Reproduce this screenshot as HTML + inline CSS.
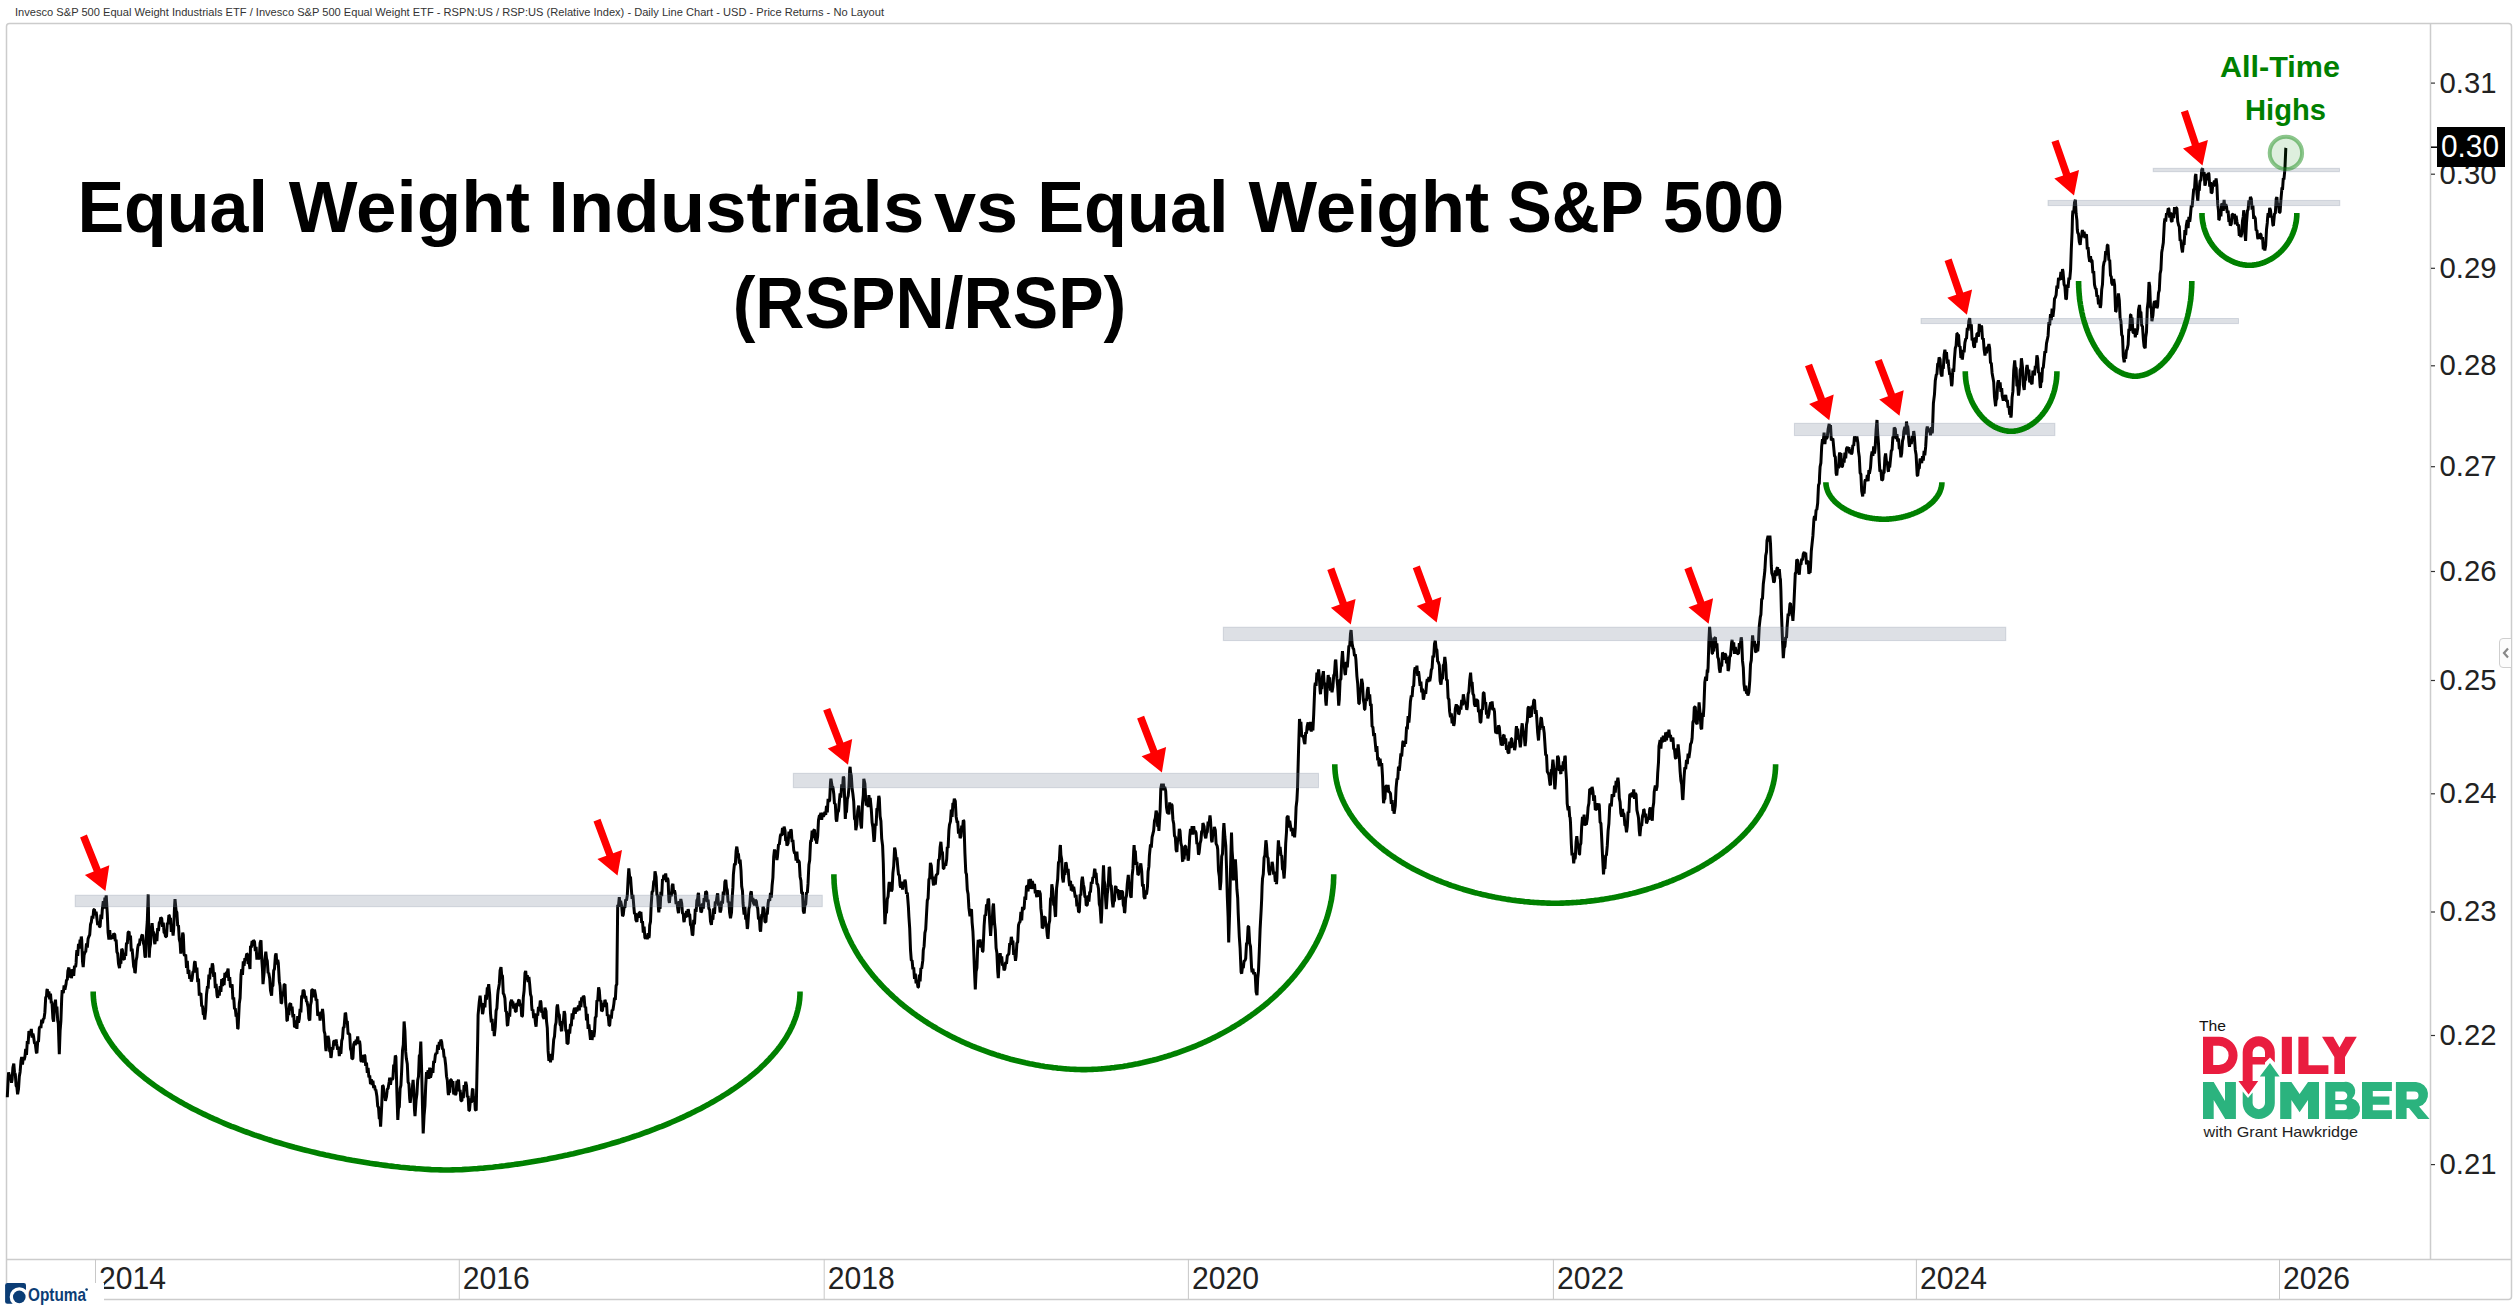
<!DOCTYPE html>
<html><head><meta charset="utf-8"><style>
html,body{margin:0;padding:0;background:#fff;}
body{width:2518px;height:1307px;overflow:hidden;position:relative;font-family:"Liberation Sans",sans-serif;}
svg{position:absolute;left:0;top:0;}
.ax{font-family:"Liberation Sans",sans-serif;font-size:30px;fill:#222;}
.hdr{font-family:"Liberation Sans",sans-serif;font-size:11px;fill:#333;}
.title{font-family:"Liberation Sans",sans-serif;font-weight:bold;font-size:72.5px;fill:#000;}
.ath{font-family:"Liberation Sans",sans-serif;font-weight:bold;font-size:30px;fill:#008000;}
</style></head><body>
<svg width="2518" height="1307" viewBox="0 0 2518 1307">
<text x="15" y="16" class="hdr" textLength="869" lengthAdjust="spacingAndGlyphs">Invesco S&amp;P 500 Equal Weight Industrials ETF / Invesco S&amp;P 500 Equal Weight ETF - RSPN:US / RSP:US (Relative Index) - Daily Line Chart - USD - Price Returns - No Layout</text>
<rect x="6.5" y="23.5" width="2505" height="1276" rx="3" fill="none" stroke="#cccccc" stroke-width="1.5"/>
<line x1="2430.5" y1="23" x2="2430.5" y2="1259.5" stroke="#cccccc" stroke-width="1.5"/>
<line x1="7" y1="1259.5" x2="2511" y2="1259.5" stroke="#cccccc" stroke-width="1.5"/>
<line x1="95.5" y1="1259" x2="95.5" y2="1299" stroke="#c8c8c8" stroke-width="1"/><text x="99.0" y="1289" class="ax" style="font-size:31px" textLength="67" lengthAdjust="spacingAndGlyphs">2014</text><line x1="459.3" y1="1259" x2="459.3" y2="1299" stroke="#c8c8c8" stroke-width="1"/><text x="462.8" y="1289" class="ax" style="font-size:31px" textLength="67" lengthAdjust="spacingAndGlyphs">2016</text><line x1="824.2" y1="1259" x2="824.2" y2="1299" stroke="#c8c8c8" stroke-width="1"/><text x="827.7" y="1289" class="ax" style="font-size:31px" textLength="67" lengthAdjust="spacingAndGlyphs">2018</text><line x1="1188.4" y1="1259" x2="1188.4" y2="1299" stroke="#c8c8c8" stroke-width="1"/><text x="1191.9" y="1289" class="ax" style="font-size:31px" textLength="67" lengthAdjust="spacingAndGlyphs">2020</text><line x1="1553.4" y1="1259" x2="1553.4" y2="1299" stroke="#c8c8c8" stroke-width="1"/><text x="1556.9" y="1289" class="ax" style="font-size:31px" textLength="67" lengthAdjust="spacingAndGlyphs">2022</text><line x1="1916.4" y1="1259" x2="1916.4" y2="1299" stroke="#c8c8c8" stroke-width="1"/><text x="1919.9" y="1289" class="ax" style="font-size:31px" textLength="67" lengthAdjust="spacingAndGlyphs">2024</text><line x1="2279.5" y1="1259" x2="2279.5" y2="1299" stroke="#c8c8c8" stroke-width="1"/><text x="2283.0" y="1289" class="ax" style="font-size:31px" textLength="67" lengthAdjust="spacingAndGlyphs">2026</text>
<line x1="2431" y1="1164.6" x2="2435" y2="1164.6" stroke="#333" stroke-width="1.2"/><line x1="2431" y1="1035.5" x2="2435" y2="1035.5" stroke="#333" stroke-width="1.2"/><line x1="2431" y1="912.0" x2="2435" y2="912.0" stroke="#333" stroke-width="1.2"/><line x1="2431" y1="793.8" x2="2435" y2="793.8" stroke="#333" stroke-width="1.2"/><line x1="2431" y1="680.5" x2="2435" y2="680.5" stroke="#333" stroke-width="1.2"/><line x1="2431" y1="571.5" x2="2435" y2="571.5" stroke="#333" stroke-width="1.2"/><line x1="2431" y1="466.7" x2="2435" y2="466.7" stroke="#333" stroke-width="1.2"/><line x1="2431" y1="365.8" x2="2435" y2="365.8" stroke="#333" stroke-width="1.2"/><line x1="2431" y1="268.3" x2="2435" y2="268.3" stroke="#333" stroke-width="1.2"/><line x1="2431" y1="174.2" x2="2435" y2="174.2" stroke="#333" stroke-width="1.2"/><line x1="2431" y1="83.1" x2="2435" y2="83.1" stroke="#333" stroke-width="1.2"/>
<text x="2439.5" y="1174.0" class="ax" textLength="57" lengthAdjust="spacingAndGlyphs">0.21</text><text x="2439.5" y="1044.9" class="ax" textLength="57" lengthAdjust="spacingAndGlyphs">0.22</text><text x="2439.5" y="921.4" class="ax" textLength="57" lengthAdjust="spacingAndGlyphs">0.23</text><text x="2439.5" y="803.2" class="ax" textLength="57" lengthAdjust="spacingAndGlyphs">0.24</text><text x="2439.5" y="689.9" class="ax" textLength="57" lengthAdjust="spacingAndGlyphs">0.25</text><text x="2439.5" y="580.9" class="ax" textLength="57" lengthAdjust="spacingAndGlyphs">0.26</text><text x="2439.5" y="476.1" class="ax" textLength="57" lengthAdjust="spacingAndGlyphs">0.27</text><text x="2439.5" y="375.2" class="ax" textLength="57" lengthAdjust="spacingAndGlyphs">0.28</text><text x="2439.5" y="277.7" class="ax" textLength="57" lengthAdjust="spacingAndGlyphs">0.29</text><text x="2439.5" y="183.6" class="ax" textLength="57" lengthAdjust="spacingAndGlyphs">0.30</text><text x="2439.5" y="92.5" class="ax" textLength="57" lengthAdjust="spacingAndGlyphs">0.31</text>
<path d="M7.3 1097.2 L8.1 1079.9 L8.6 1072.3 L9.7 1078.1 L10.5 1074.8 L11.5 1082.8 L12.1 1079.4 L12.9 1067.5 L13.8 1063.7 L14.5 1072.2 L15.3 1074.2 L16.1 1085.7 L16.9 1087.1 L17.6 1094.3 L18.5 1089.1 L19.3 1076.5 L20.1 1071.9 L21.0 1060.8 L21.7 1057.0 L22.5 1064.6 L23.3 1056.8 L24.1 1060.1 L24.9 1057.0 L25.7 1048.8 L26.5 1054.8 L27.3 1041.0 L28.1 1044.1 L28.9 1031.1 L29.6 1033.1 L30.5 1035.1 L31.3 1029.0 L32.1 1037.5 L32.9 1033.6 L33.5 1036.0 L34.5 1043.4 L35.3 1043.5 L36.3 1052.2 L36.9 1053.2 L37.7 1041.2 L38.5 1041.9 L39.3 1028.2 L40.2 1026.4 L40.9 1028.0 L41.7 1019.6 L42.5 1023.3 L43.3 1018.7 L44.0 1018.8 L44.9 1012.2 L45.7 997.5 L46.5 996.2 L46.9 990.1 L47.3 989.2 L48.1 997.0 L48.9 991.5 L49.7 999.4 L50.5 993.7 L51.3 1003.5 L51.6 1001.5 L52.1 1004.3 L52.9 1018.4 L53.6 1021.6 L54.5 1007.4 L55.5 999.6 L56.1 1010.0 L56.9 1006.6 L57.7 1020.5 L58.3 1023.5 L59.3 1054.1 L60.1 1031.0 L60.9 1020.8 L61.7 998.5 L62.2 990.1 L63.3 993.2 L64.1 985.3 L64.9 989.6 L66.0 984.3 L66.5 979.9 L67.3 979.8 L67.9 970.9 L68.9 967.5 L69.7 977.5 L70.5 969.4 L71.3 978.1 L71.7 976.7 L72.9 969.3 L73.7 975.9 L74.5 965.8 L75.6 967.1 L76.1 962.9 L76.5 954.7 L76.9 950.2 L77.7 956.0 L78.5 943.8 L79.3 948.6 L80.1 939.7 L80.9 941.4 L81.3 936.5 L81.7 939.8 L82.5 961.3 L83.2 967.1 L84.1 955.1 L85.1 951.8 L85.7 952.0 L86.5 943.4 L87.3 947.6 L88.1 938.7 L88.9 936.5 L89.7 934.9 L90.5 924.5 L90.9 923.1 L91.3 922.4 L92.1 916.0 L92.9 918.6 L93.7 909.7 L94.5 909.4 L95.3 915.2 L96.1 911.7 L96.6 915.5 L97.7 925.1 L98.5 921.4 L99.5 926.9 L100.1 926.7 L100.9 914.7 L101.7 919.2 L102.3 909.7 L103.3 901.1 L104.1 908.6 L104.9 897.7 L105.7 899.8 L106.2 895.4 L107.3 914.1 L108.1 932.7 L108.9 939.7 L109.7 930.1 L110.5 939.0 L110.9 938.4 L112.1 935.3 L112.9 938.8 L113.7 933.4 L114.8 934.6 L115.3 941.1 L116.1 939.7 L116.9 951.8 L117.7 953.7 L118.5 963.7 L119.5 968.1 L120.1 962.2 L120.9 963.6 L121.7 948.9 L122.4 949.9 L123.3 958.7 L124.3 959.5 L124.9 953.0 L125.7 955.9 L126.5 942.6 L127.3 943.9 L128.1 932.3 L129.1 931.7 L129.7 940.1 L130.5 935.5 L131.3 951.3 L132.1 948.6 L132.9 957.6 L133.7 966.5 L134.5 968.7 L134.9 972.9 L135.3 972.2 L136.1 960.8 L136.9 956.9 L137.7 948.0 L138.5 943.7 L139.3 945.6 L140.1 938.6 L140.9 940.6 L141.7 935.7 L142.5 934.6 L143.3 942.7 L144.1 945.4 L144.9 956.0 L145.4 957.6 L146.5 932.1 L147.3 921.2 L148.2 894.4 L149.2 957.6 L149.7 948.6 L150.5 944.2 L151.3 930.3 L152.1 923.1 L152.9 931.9 L153.7 931.9 L154.5 942.1 L154.9 944.2 L156.1 933.6 L156.9 941.1 L157.7 928.0 L158.5 931.2 L159.3 922.3 L160.1 921.9 L160.7 917.4 L161.7 918.5 L162.5 926.9 L163.3 922.6 L164.1 932.9 L164.9 932.9 L165.5 936.5 L166.5 936.7 L167.3 922.8 L168.1 924.0 L168.9 915.1 L169.3 915.5 L169.7 918.4 L170.5 918.0 L171.3 931.8 L172.1 924.8 L173.1 935.6 L173.7 929.1 L174.5 907.4 L175.0 899.2 L176.1 910.8 L176.9 912.5 L177.7 926.0 L178.5 925.3 L178.8 930.8 L179.3 939.3 L180.1 942.7 L180.8 953.7 L181.7 946.0 L182.7 932.7 L183.3 934.8 L184.1 954.5 L184.6 955.6 L185.7 954.5 L186.5 968.0 L187.3 960.9 L188.1 973.8 L188.9 969.9 L189.7 978.9 L190.5 975.4 L191.3 981.5 L192.1 978.6 L192.9 971.8 L193.7 971.5 L194.5 962.3 L195.1 961.4 L196.1 972.5 L196.9 967.6 L197.7 982.2 L198.5 978.6 L199.3 995.6 L199.9 993.9 L200.9 993.4 L201.7 1006.5 L202.5 1005.6 L203.3 1014.5 L204.1 1014.3 L204.7 1019.7 L205.7 1010.2 L206.5 994.5 L207.5 986.2 L208.1 988.6 L208.9 974.6 L209.7 979.5 L210.5 967.8 L211.3 973.4 L212.3 963.3 L212.9 965.6 L213.7 976.8 L214.5 972.3 L215.3 988.3 L216.1 984.0 L217.1 995.8 L217.7 997.8 L218.5 990.5 L219.3 995.7 L220.1 986.0 L220.9 991.9 L221.7 979.1 L222.5 986.2 L223.3 978.1 L224.1 985.1 L224.9 972.8 L225.7 977.6 L226.5 971.9 L227.3 972.9 L227.6 970.9 L228.1 968.6 L228.9 981.0 L229.7 977.2 L230.5 987.5 L231.4 986.2 L232.1 984.3 L232.9 999.5 L233.7 997.3 L234.5 1009.1 L235.3 1008.4 L236.1 1016.6 L236.9 1014.5 L237.7 1028.8 L238.1 1028.3 L239.3 1003.5 L240.1 998.0 L241.0 974.8 L241.7 969.1 L242.5 974.8 L243.3 961.3 L244.1 965.8 L244.9 958.2 L245.7 960.3 L246.7 953.7 L247.3 954.1 L248.1 964.0 L248.9 961.3 L250.0 969.0 L250.5 945.9 L251.3 947.6 L252.1 941.0 L252.9 946.0 L253.4 940.2 L254.5 941.6 L255.3 951.1 L256.1 946.9 L256.9 959.6 L257.7 954.6 L258.2 959.3 L259.3 957.6 L260.1 943.0 L261.0 940.2 L261.7 958.4 L262.5 970.0 L263.0 984.2 L264.1 972.8 L264.9 959.1 L265.8 951.6 L266.5 958.5 L267.3 961.0 L268.1 973.2 L268.7 972.7 L269.7 978.5 L270.5 990.4 L271.6 995.6 L272.1 986.3 L272.9 985.8 L273.7 970.7 L274.5 968.8 L275.4 955.5 L276.1 953.4 L276.9 964.4 L277.7 959.9 L278.3 963.1 L279.3 981.2 L280.1 986.1 L281.1 1003.3 L281.7 1002.9 L282.5 991.7 L283.3 996.2 L284.1 984.7 L285.0 984.2 L285.7 1002.7 L286.5 1009.3 L286.9 1020.5 L287.3 1020.9 L288.1 1010.9 L288.9 1015.1 L289.7 1004.2 L290.7 1003.3 L291.3 1010.4 L292.1 1006.5 L292.9 1017.5 L293.7 1014.1 L294.5 1027.2 L295.5 1026.2 L296.1 1020.5 L296.9 1028.9 L297.7 1016.1 L298.5 1022.7 L299.3 1018.6 L300.1 1008.9 L300.9 1012.5 L301.7 995.6 L302.5 996.7 L303.1 989.9 L304.1 991.0 L304.9 998.5 L305.7 996.0 L306.5 1001.8 L306.9 1001.4 L308.1 1007.3 L308.9 1018.6 L309.8 1020.5 L310.5 1005.1 L311.3 1001.5 L311.7 989.9 L312.9 989.7 L313.7 997.4 L314.5 989.6 L315.6 995.6 L316.1 1000.7 L316.9 999.0 L317.7 1015.6 L318.4 1014.8 L319.3 1012.5 L320.1 1020.5 L320.9 1011.7 L321.7 1018.3 L322.5 1008.8 L323.2 1014.8 L324.1 1030.9 L324.9 1033.9 L325.7 1048.2 L326.1 1051.1 L326.5 1045.6 L327.3 1044.4 L328.0 1035.8 L328.9 1040.4 L329.7 1051.4 L330.5 1051.8 L330.9 1057.8 L331.3 1056.4 L332.1 1047.1 L332.9 1049.7 L333.7 1041.5 L334.5 1040.8 L335.3 1045.4 L336.1 1039.4 L336.6 1043.5 L337.7 1049.8 L338.5 1046.6 L339.3 1056.1 L340.1 1049.2 L340.4 1053.0 L340.9 1053.6 L341.7 1040.8 L342.5 1038.3 L343.3 1027.7 L344.1 1027.3 L345.2 1012.9 L345.7 1013.5 L346.5 1021.6 L347.3 1021.0 L348.1 1034.2 L349.0 1033.9 L349.7 1034.3 L350.5 1048.8 L351.3 1051.4 L351.9 1058.8 L352.9 1058.5 L353.7 1044.2 L354.8 1041.5 L355.3 1045.3 L356.1 1039.7 L356.9 1042.6 L357.7 1036.5 L358.5 1044.0 L359.5 1040.6 L360.1 1045.0 L360.9 1060.7 L361.5 1061.6 L362.5 1055.0 L363.3 1062.5 L364.3 1054.9 L364.9 1055.8 L365.7 1066.0 L366.5 1062.7 L367.3 1073.0 L368.1 1067.8 L368.9 1077.4 L369.7 1075.5 L370.1 1079.8 L370.5 1084.2 L371.3 1079.3 L372.1 1085.0 L372.9 1080.7 L373.7 1088.1 L374.5 1085.4 L375.3 1090.2 L375.8 1089.4 L376.9 1096.2 L377.7 1106.1 L378.5 1107.4 L379.3 1119.0 L380.1 1118.4 L380.6 1126.7 L381.7 1106.0 L382.5 1085.5 L383.3 1086.0 L384.1 1095.9 L384.9 1095.8 L385.4 1100.8 L386.5 1096.6 L387.3 1089.0 L388.1 1088.6 L389.2 1081.7 L389.7 1077.7 L390.5 1084.7 L391.3 1078.2 L392.1 1079.8 L392.9 1078.5 L393.7 1064.5 L394.5 1067.1 L395.3 1055.5 L395.9 1056.8 L396.9 1092.4 L397.8 1120.0 L398.5 1108.1 L399.3 1106.9 L400.1 1088.6 L400.9 1085.3 L401.6 1072.1 L402.5 1050.5 L403.3 1044.7 L404.1 1021.5 L404.9 1030.8 L405.7 1051.9 L406.4 1058.8 L407.3 1064.0 L408.1 1082.1 L408.9 1083.9 L409.7 1098.9 L410.2 1102.8 L411.3 1093.0 L412.1 1089.9 L413.1 1079.8 L413.7 1089.0 L414.5 1110.0 L415.0 1116.1 L416.1 1100.1 L416.9 1094.1 L417.7 1080.1 L418.5 1076.5 L419.3 1055.5 L420.1 1054.9 L420.8 1041.5 L421.7 1072.6 L422.5 1107.1 L423.2 1133.4 L424.1 1115.2 L424.9 1106.2 L425.7 1085.8 L426.5 1072.1 L427.3 1075.8 L428.1 1070.3 L428.9 1078.9 L429.7 1067.6 L430.5 1077.6 L431.3 1074.1 L432.1 1068.2 L432.9 1072.9 L433.7 1060.9 L434.5 1062.9 L435.3 1055.3 L436.1 1053.0 L436.9 1053.8 L437.7 1045.0 L438.5 1049.9 L439.3 1041.9 L440.1 1045.4 L440.8 1039.6 L441.7 1042.1 L442.5 1049.4 L443.3 1048.9 L444.1 1057.3 L444.7 1056.8 L445.7 1065.5 L446.5 1076.2 L447.3 1080.2 L448.1 1092.5 L448.5 1095.1 L448.9 1090.6 L449.7 1092.6 L450.5 1079.8 L451.4 1079.8 L452.1 1087.0 L452.9 1081.2 L453.7 1094.4 L454.5 1089.2 L455.2 1095.1 L456.1 1093.5 L456.9 1080.8 L457.7 1083.9 L458.1 1080.8 L458.5 1079.7 L459.3 1091.4 L460.1 1089.9 L460.9 1100.7 L461.9 1100.8 L462.5 1092.6 L463.3 1098.1 L464.1 1085.2 L464.9 1091.0 L465.7 1081.7 L466.5 1085.6 L467.3 1097.1 L468.1 1095.8 L468.9 1110.6 L469.5 1110.4 L470.5 1098.5 L471.3 1102.8 L472.4 1089.4 L472.9 1088.8 L473.7 1101.8 L474.5 1096.3 L475.3 1109.7 L476.2 1110.4 L476.9 1076.1 L477.7 1039.4 L478.1 1014.8 L479.3 1001.7 L480.1 995.6 L480.9 1003.5 L481.7 1003.6 L482.5 1014.1 L482.9 1012.9 L484.1 1003.2 L484.9 1007.3 L485.7 994.9 L486.5 999.6 L487.3 987.6 L488.1 988.3 L488.7 984.2 L489.7 994.8 L490.5 1013.1 L491.3 1022.4 L492.1 1018.8 L492.9 1031.0 L493.7 1027.6 L494.3 1036.1 L495.3 1026.5 L496.1 1010.7 L496.9 1008.2 L497.7 994.9 L498.2 990.2 L499.3 983.9 L500.1 970.3 L501.0 967.2 L501.7 975.3 L502.5 975.8 L503.3 993.9 L503.9 994.0 L504.9 998.3 L505.7 1011.5 L506.5 1011.6 L507.3 1025.2 L507.7 1025.6 L508.9 1013.0 L509.7 1016.7 L510.5 1002.8 L511.6 999.7 L512.1 1002.6 L512.9 1001.7 L513.7 1008.5 L514.5 1003.7 L515.4 1011.2 L516.1 1011.8 L516.9 1002.8 L517.7 1005.6 L518.5 1000.5 L519.2 999.7 L520.1 1006.5 L520.9 1003.6 L521.7 1016.5 L522.5 1016.0 L523.3 997.6 L524.1 990.8 L525.0 973.0 L525.7 971.0 L526.5 980.0 L527.3 975.1 L528.1 982.2 L528.9 976.9 L529.7 984.4 L530.5 994.3 L531.3 996.9 L531.6 1004.5 L532.1 1010.7 L532.9 1009.3 L533.7 1018.0 L534.5 1013.5 L535.5 1023.6 L536.1 1026.6 L536.9 1013.6 L537.7 1015.6 L538.5 1007.0 L539.3 1011.2 L540.3 1000.7 L540.9 1002.0 L541.7 1012.7 L542.5 1011.4 L543.1 1016.9 L544.1 1018.8 L544.9 1007.7 L546.0 1011.2 L546.5 1021.0 L547.3 1028.2 L548.1 1050.9 L548.9 1060.9 L549.7 1053.9 L550.5 1062.3 L551.3 1053.8 L552.1 1060.0 L552.7 1053.3 L553.7 1039.7 L554.5 1036.4 L555.3 1025.7 L556.1 1022.3 L556.9 1007.3 L557.5 1004.5 L558.5 1013.9 L559.3 1014.8 L560.1 1024.9 L560.9 1025.5 L561.3 1030.3 L561.7 1031.1 L562.5 1021.3 L563.3 1022.0 L564.2 1011.2 L564.9 1014.0 L565.7 1030.1 L566.5 1032.1 L567.0 1043.7 L568.1 1043.3 L568.9 1029.3 L569.7 1033.5 L570.5 1024.0 L571.3 1026.2 L572.1 1013.3 L572.9 1019.4 L573.7 1011.2 L574.5 1007.9 L575.3 1013.7 L576.1 1007.5 L576.9 1011.1 L577.6 1009.3 L578.5 1005.5 L579.3 1010.5 L580.1 1000.9 L580.9 1007.2 L581.7 997.3 L582.5 1000.3 L583.3 995.9 L584.1 996.8 L584.9 1007.3 L585.7 1006.8 L586.5 1020.3 L587.3 1013.8 L588.1 1029.0 L588.9 1024.4 L590.0 1035.1 L590.5 1039.9 L591.3 1030.0 L592.1 1040.0 L592.9 1031.9 L593.8 1037.0 L594.5 1031.6 L595.3 1017.1 L596.1 1016.9 L596.9 1000.4 L597.7 1001.2 L598.6 987.3 L599.3 990.4 L600.1 1001.0 L600.9 1000.7 L601.5 1011.2 L602.5 1010.3 L603.3 1002.8 L604.1 1006.9 L604.9 1000.0 L605.3 1000.7 L605.7 1006.2 L606.5 1002.5 L607.3 1016.0 L608.1 1014.4 L609.1 1025.6 L609.7 1025.4 L610.5 1015.4 L611.3 1018.7 L612.1 1010.0 L612.9 1010.3 L613.9 1003.6 L614.5 997.6 L615.3 999.9 L616.1 985.5 L616.8 984.4 L617.7 904.8 L618.5 906.0 L619.3 897.2 L620.1 906.8 L620.6 900.9 L621.7 906.2 L622.5 916.2 L623.3 914.7 L624.1 907.2 L624.9 907.5 L625.7 899.5 L626.5 900.4 L627.3 895.2 L628.1 879.1 L628.8 868.4 L629.7 877.3 L630.5 876.9 L631.1 885.6 L632.1 898.8 L632.9 894.9 L634.0 908.6 L634.5 914.1 L635.3 913.1 L635.9 920.1 L636.9 921.8 L637.7 913.5 L638.5 917.7 L639.3 912.2 L639.7 912.4 L640.1 915.5 L640.9 911.8 L641.7 923.0 L642.5 921.2 L643.3 932.6 L644.1 926.7 L644.9 937.8 L645.5 938.2 L646.5 935.0 L647.3 939.3 L648.1 933.2 L648.9 938.0 L649.3 935.4 L649.7 925.4 L650.5 921.6 L651.2 904.8 L652.1 891.7 L652.9 891.4 L653.7 881.8 L654.5 880.3 L655.0 871.3 L656.1 877.1 L656.9 894.6 L657.7 895.8 L658.5 909.1 L658.8 912.4 L659.3 907.0 L660.1 908.8 L660.9 891.9 L661.7 896.3 L662.5 879.0 L663.3 880.2 L663.6 876.1 L664.1 875.0 L664.9 878.6 L665.7 873.4 L666.5 882.0 L667.5 878.0 L668.1 880.3 L668.9 900.3 L669.4 902.9 L670.5 891.9 L671.3 896.3 L672.2 885.6 L672.9 883.9 L673.7 893.3 L674.5 890.2 L675.1 893.3 L676.1 904.0 L676.9 901.6 L678.0 910.5 L678.5 913.2 L679.3 901.0 L680.1 904.8 L680.8 899.0 L681.7 903.3 L682.5 913.4 L683.3 913.7 L683.7 920.1 L684.1 922.1 L684.9 916.0 L685.7 917.7 L686.5 910.8 L687.3 917.0 L688.1 909.2 L688.5 910.5 L688.9 914.4 L689.7 914.1 L690.5 924.6 L691.3 925.9 L692.3 935.4 L692.9 934.6 L693.7 919.9 L694.5 924.3 L695.3 908.8 L696.1 912.0 L696.9 900.4 L697.7 898.6 L698.1 894.2 L698.5 892.9 L699.3 906.5 L700.1 904.3 L700.9 912.4 L701.7 911.1 L702.5 903.4 L703.3 908.7 L704.1 898.2 L704.9 901.1 L705.7 891.4 L706.7 892.3 L707.3 902.1 L708.1 899.6 L708.9 908.7 L709.7 909.9 L710.5 921.4 L711.4 924.9 L712.1 917.2 L712.9 919.7 L713.7 908.3 L714.5 914.0 L715.3 901.5 L716.1 903.2 L717.2 895.2 L717.7 893.4 L718.5 905.6 L719.3 902.6 L720.1 912.4 L720.9 910.1 L721.7 901.0 L722.5 903.6 L723.3 891.6 L724.1 895.4 L724.9 881.6 L725.8 879.9 L726.5 887.8 L727.3 890.2 L728.1 902.5 L728.9 901.7 L729.6 912.4 L730.5 918.2 L731.5 912.6 L732.1 898.9 L732.9 887.4 L733.4 874.3 L734.5 863.4 L735.3 865.1 L736.1 850.9 L736.8 846.6 L737.7 852.8 L738.5 854.4 L739.3 863.5 L740.1 859.5 L741.0 870.5 L741.7 886.6 L742.5 891.0 L743.0 903.0 L744.1 914.6 L744.9 906.9 L745.7 919.4 L746.5 918.5 L747.3 929.0 L747.7 926.9 L748.9 908.9 L749.7 905.7 L750.6 893.5 L751.3 891.3 L752.1 901.4 L752.9 898.0 L753.5 903.0 L754.5 905.2 L755.3 899.8 L756.3 901.1 L756.9 906.0 L757.7 908.2 L758.5 919.5 L759.3 916.6 L760.1 929.6 L760.6 931.7 L761.7 914.7 L762.5 914.6 L763.0 906.8 L764.1 909.4 L764.9 921.8 L765.9 922.1 L766.5 912.8 L767.3 914.5 L768.1 903.4 L768.8 899.2 L769.7 900.9 L770.5 892.8 L771.3 897.7 L771.6 893.5 L772.1 885.5 L772.9 877.6 L773.7 856.9 L774.5 849.5 L775.3 852.8 L776.1 850.4 L776.9 860.1 L777.4 857.1 L778.5 844.3 L779.3 844.7 L780.3 836.1 L780.9 834.0 L781.7 835.9 L782.5 827.8 L783.3 834.9 L784.1 826.7 L785.0 830.3 L785.7 840.9 L786.5 839.6 L786.9 845.6 L788.1 843.4 L788.9 831.7 L789.7 838.2 L790.8 829.4 L791.3 830.4 L792.1 842.1 L792.9 839.8 L793.7 850.0 L794.6 853.3 L795.3 853.2 L796.1 860.7 L796.9 851.7 L797.7 862.9 L798.4 860.0 L799.3 862.1 L800.1 876.7 L800.9 880.5 L801.7 893.7 L802.5 891.9 L803.3 911.0 L804.2 913.5 L804.9 905.0 L805.7 904.3 L806.5 892.4 L807.3 893.0 L808.0 883.9 L808.9 864.7 L809.7 860.2 L810.5 842.6 L810.9 839.9 L811.3 841.8 L812.1 830.7 L812.9 838.1 L813.7 830.3 L814.5 829.7 L815.3 840.3 L816.1 838.9 L816.6 843.7 L817.7 835.9 L818.5 820.0 L819.5 815.0 L820.1 816.6 L820.9 812.9 L821.7 819.8 L822.5 812.6 L823.3 816.5 L824.2 815.0 L824.9 811.9 L825.7 814.9 L826.5 806.0 L827.3 812.5 L828.1 798.9 L829.0 801.6 L829.7 799.9 L830.5 782.4 L830.9 778.7 L832.1 786.3 L832.9 787.3 L833.8 794.0 L834.5 804.0 L835.3 803.5 L836.1 819.2 L836.7 821.7 L837.7 811.8 L838.5 811.2 L839.5 799.7 L840.1 793.5 L840.9 797.6 L841.7 784.3 L842.5 790.4 L843.3 776.7 L843.9 777.7 L844.9 807.3 L845.3 818.9 L845.7 812.5 L846.5 812.0 L847.3 799.1 L848.2 795.9 L848.9 788.1 L849.7 769.8 L850.1 766.8 L850.5 772.1 L851.3 775.8 L852.1 788.1 L852.9 794.0 L853.7 801.3 L854.5 818.8 L855.3 819.9 L855.8 830.3 L856.9 823.9 L857.7 811.1 L858.7 805.5 L859.3 816.1 L860.1 813.0 L860.9 825.3 L861.5 828.4 L862.5 803.3 L863.3 795.2 L863.8 778.7 L864.9 783.8 L865.7 800.1 L866.3 805.5 L867.3 800.1 L868.1 807.1 L868.9 795.2 L869.7 803.3 L870.2 797.8 L871.3 809.3 L872.1 822.5 L872.9 827.3 L874.0 841.8 L874.5 838.8 L875.3 823.6 L876.1 825.7 L876.9 808.4 L877.7 809.4 L878.8 795.9 L879.3 798.0 L880.1 816.3 L880.9 820.9 L881.7 838.6 L882.6 845.6 L883.3 863.2 L884.1 898.0 L884.9 924.1 L885.7 912.5 L886.5 913.1 L887.3 899.0 L888.1 896.5 L888.9 884.6 L889.3 882.0 L889.7 884.4 L890.5 882.7 L891.3 891.4 L892.1 889.6 L892.9 873.1 L893.7 866.1 L894.6 847.6 L895.3 850.4 L896.1 859.6 L896.9 857.5 L897.9 868.6 L898.5 874.5 L899.3 875.1 L900.1 885.3 L900.8 887.7 L901.7 881.6 L902.5 889.5 L903.3 883.2 L904.1 885.4 L904.9 879.7 L905.5 882.0 L906.5 893.9 L907.3 892.7 L908.4 906.8 L908.9 916.7 L909.7 928.4 L910.5 949.8 L911.3 960.4 L912.1 960.4 L912.9 969.3 L913.7 967.3 L914.5 978.9 L915.3 973.7 L916.1 983.5 L916.9 979.9 L918.0 987.2 L918.5 987.1 L919.3 974.6 L920.1 981.4 L920.9 968.0 L921.7 968.6 L922.8 960.4 L923.3 950.0 L924.1 946.2 L924.9 932.8 L925.7 929.5 L926.6 912.6 L927.3 900.4 L928.1 898.4 L928.9 879.7 L929.7 877.9 L930.4 862.9 L931.3 865.8 L932.1 877.0 L932.9 880.1 L933.3 883.9 L933.7 885.4 L934.5 876.6 L935.3 884.5 L936.1 875.3 L937.1 874.3 L937.7 873.5 L938.5 859.7 L939.3 859.5 L940.1 847.2 L940.9 841.8 L941.7 851.3 L942.5 852.5 L943.3 868.6 L943.8 868.6 L944.9 863.3 L945.7 865.9 L946.7 859.0 L947.3 846.7 L948.1 848.0 L948.9 830.4 L949.5 824.6 L950.5 821.4 L951.3 809.5 L952.1 816.8 L952.9 803.1 L953.7 803.7 L954.3 798.8 L955.3 801.1 L956.1 816.4 L957.2 822.7 L957.7 820.8 L958.5 833.7 L959.3 828.6 L960.1 838.0 L960.9 836.3 L961.7 825.7 L962.5 829.4 L963.3 820.4 L963.9 820.8 L964.9 852.8 L965.8 872.4 L966.5 874.3 L967.3 889.9 L968.1 894.0 L968.9 907.7 L970.0 916.4 L970.5 911.2 L971.5 909.2 L972.1 922.3 L972.9 931.3 L973.4 941.7 L974.5 971.1 L975.3 989.5 L976.1 971.6 L976.9 967.9 L977.7 947.3 L978.2 939.8 L979.3 946.3 L980.1 939.5 L980.9 947.7 L981.7 943.0 L982.5 951.5 L983.0 951.3 L984.1 926.0 L984.9 914.9 L985.7 915.6 L986.5 904.3 L987.3 908.0 L988.1 898.9 L988.7 899.6 L989.7 922.2 L990.6 936.0 L991.3 925.2 L992.1 923.7 L992.9 907.0 L993.5 903.5 L994.5 922.3 L995.3 930.1 L996.1 948.1 L996.9 952.9 L997.7 971.2 L998.3 978.1 L999.3 960.0 L1000.2 953.2 L1000.9 961.3 L1001.7 956.5 L1002.5 965.6 L1003.3 963.7 L1004.0 970.4 L1004.9 968.6 L1005.7 961.9 L1006.5 963.8 L1007.3 955.8 L1007.8 955.1 L1008.9 953.7 L1009.7 943.1 L1010.5 944.6 L1011.3 936.9 L1011.6 937.9 L1012.1 941.6 L1012.9 940.5 L1013.7 955.0 L1014.5 951.2 L1015.5 960.8 L1016.1 956.3 L1016.9 943.2 L1017.7 941.9 L1018.5 925.1 L1019.3 922.6 L1020.1 921.7 L1020.9 911.8 L1021.7 920.3 L1022.5 906.8 L1023.1 909.2 L1024.1 908.6 L1024.9 896.6 L1025.7 899.8 L1026.5 886.3 L1026.9 886.2 L1028.1 891.3 L1028.9 879.4 L1029.7 886.4 L1030.5 878.9 L1031.3 889.0 L1032.1 881.3 L1032.7 882.4 L1033.7 888.7 L1034.5 883.8 L1035.3 893.4 L1036.1 890.2 L1036.5 895.8 L1036.9 897.1 L1037.7 890.1 L1038.5 896.7 L1039.3 890.8 L1040.3 893.9 L1040.9 908.4 L1041.7 915.7 L1042.2 928.3 L1043.3 926.7 L1044.1 917.4 L1045.1 916.8 L1045.7 923.6 L1046.5 925.8 L1047.3 935.4 L1048.0 938.8 L1048.9 924.3 L1049.7 920.6 L1050.5 899.0 L1051.3 897.1 L1051.8 884.3 L1052.9 891.3 L1053.7 905.1 L1054.5 905.1 L1055.3 916.0 L1055.6 916.8 L1056.1 900.9 L1056.6 888.2 L1057.7 879.0 L1058.5 861.7 L1059.3 861.9 L1060.1 846.7 L1060.4 845.1 L1060.9 855.0 L1061.7 859.6 L1062.5 877.7 L1063.3 882.4 L1064.1 873.0 L1064.9 875.0 L1065.7 862.4 L1066.2 863.3 L1067.3 872.4 L1068.1 868.8 L1069.0 880.5 L1069.7 886.0 L1070.5 880.9 L1071.3 890.6 L1072.1 884.3 L1072.9 891.5 L1073.7 886.6 L1074.8 893.9 L1075.3 897.5 L1076.1 894.9 L1076.9 906.3 L1077.7 903.4 L1078.6 912.1 L1079.3 911.7 L1080.1 894.4 L1080.9 895.4 L1081.7 880.9 L1082.4 876.7 L1083.3 884.3 L1084.1 887.7 L1084.9 897.0 L1085.7 897.1 L1086.2 905.4 L1087.3 905.1 L1088.1 895.3 L1088.9 901.7 L1089.7 892.2 L1090.1 892.0 L1090.5 891.6 L1091.3 881.9 L1092.1 883.7 L1092.9 877.3 L1093.7 877.6 L1094.5 869.8 L1094.9 869.0 L1095.3 873.3 L1096.1 873.2 L1096.9 883.8 L1097.7 884.3 L1098.5 888.8 L1099.3 904.1 L1100.1 906.9 L1101.2 923.5 L1101.7 913.6 L1102.5 888.5 L1103.5 865.2 L1104.1 880.3 L1104.9 884.5 L1105.7 901.0 L1106.3 909.2 L1107.3 893.7 L1108.1 887.9 L1109.2 867.1 L1109.7 867.8 L1110.5 885.4 L1111.3 885.7 L1112.1 899.7 L1113.0 907.3 L1113.7 901.3 L1114.5 901.0 L1115.3 886.9 L1115.9 886.2 L1116.9 893.0 L1117.7 889.1 L1118.8 897.7 L1119.3 899.8 L1120.1 890.1 L1120.9 899.3 L1121.7 891.0 L1122.6 892.0 L1123.3 905.0 L1124.1 907.3 L1124.5 913.0 L1124.9 911.6 L1125.7 898.2 L1126.5 895.7 L1127.3 883.8 L1128.3 874.8 L1128.9 883.6 L1129.7 884.3 L1130.5 895.8 L1131.2 897.7 L1132.1 876.0 L1132.9 868.9 L1133.7 850.9 L1134.1 845.1 L1134.5 851.0 L1135.3 850.8 L1136.1 864.9 L1136.9 861.8 L1137.9 874.8 L1138.5 874.4 L1139.3 866.6 L1140.1 868.7 L1140.8 863.3 L1141.7 871.2 L1142.5 886.4 L1143.3 884.2 L1144.0 896.8 L1144.9 898.8 L1145.7 890.5 L1146.5 894.5 L1147.5 886.2 L1148.1 871.6 L1148.9 866.4 L1149.4 855.6 L1150.5 844.3 L1151.3 847.6 L1152.1 837.1 L1153.2 832.7 L1153.7 830.4 L1154.5 820.6 L1155.3 818.1 L1156.1 810.7 L1156.9 813.5 L1157.7 826.7 L1158.5 824.1 L1158.9 830.8 L1160.1 811.0 L1160.8 788.7 L1161.7 783.7 L1162.5 790.4 L1163.3 783.6 L1164.1 790.4 L1164.7 786.8 L1165.7 791.1 L1166.5 807.3 L1167.5 813.6 L1168.1 810.0 L1168.9 814.5 L1169.7 802.4 L1170.5 808.5 L1171.4 804.0 L1172.1 805.4 L1172.9 819.7 L1173.7 823.7 L1174.5 836.2 L1175.3 836.7 L1176.1 849.9 L1176.9 852.0 L1177.7 837.5 L1178.5 841.0 L1179.3 828.9 L1180.0 830.8 L1180.9 843.1 L1181.7 846.5 L1182.5 860.9 L1182.8 861.4 L1183.3 856.1 L1184.1 859.3 L1184.9 846.2 L1185.7 846.1 L1186.5 855.3 L1187.3 849.4 L1188.1 860.7 L1188.6 858.5 L1189.7 837.0 L1190.5 828.9 L1191.3 834.5 L1192.1 826.2 L1192.9 834.5 L1193.7 826.2 L1194.5 833.1 L1195.3 830.8 L1196.1 833.1 L1196.9 844.1 L1197.7 843.0 L1198.5 854.7 L1199.1 852.8 L1200.1 843.3 L1200.9 840.4 L1201.7 831.1 L1202.5 830.9 L1202.9 823.1 L1204.1 826.4 L1204.9 835.4 L1205.8 838.4 L1206.5 833.4 L1207.3 831.8 L1208.1 821.5 L1208.9 825.9 L1210.0 815.5 L1210.5 819.8 L1211.5 840.3 L1212.1 842.2 L1212.9 832.2 L1213.7 834.0 L1214.3 826.9 L1215.3 830.2 L1216.1 843.6 L1217.2 846.0 L1217.7 849.2 L1218.5 870.9 L1219.3 876.2 L1220.1 890.0 L1220.9 881.3 L1221.7 856.4 L1222.5 853.7 L1223.3 832.3 L1223.9 823.1 L1224.9 837.0 L1225.8 846.0 L1226.5 866.7 L1227.3 896.7 L1228.1 917.0 L1228.7 942.5 L1229.7 909.3 L1230.5 869.3 L1231.5 832.6 L1232.1 850.5 L1232.9 861.8 L1233.4 880.4 L1234.5 871.8 L1235.4 859.4 L1236.1 870.9 L1236.9 889.2 L1237.7 898.0 L1238.2 912.9 L1239.3 936.6 L1240.1 948.2 L1241.1 972.2 L1241.7 973.5 L1242.5 966.7 L1243.3 968.1 L1244.1 960.7 L1244.9 960.7 L1245.7 958.5 L1246.5 943.7 L1247.3 942.3 L1248.1 926.5 L1248.7 926.3 L1249.7 943.5 L1250.5 946.4 L1251.6 968.3 L1252.1 972.2 L1252.9 968.7 L1253.7 974.3 L1254.5 972.2 L1255.3 976.2 L1256.1 991.8 L1257.0 995.1 L1257.7 978.6 L1258.5 970.7 L1259.3 951.1 L1260.1 929.4 L1261.2 909.1 L1261.7 898.6 L1262.1 886.1 L1262.5 878.8 L1263.3 874.0 L1264.1 857.6 L1264.9 855.2 L1265.9 840.3 L1266.5 844.8 L1267.3 856.6 L1268.1 858.1 L1268.8 870.9 L1269.7 875.2 L1270.5 866.7 L1271.3 870.1 L1272.1 861.8 L1272.6 864.2 L1273.7 874.6 L1274.5 871.7 L1275.3 881.6 L1276.1 880.4 L1276.5 884.2 L1276.9 878.3 L1277.7 853.8 L1278.4 840.3 L1279.3 850.8 L1280.1 846.8 L1280.9 855.0 L1281.2 855.6 L1281.7 855.7 L1282.5 869.1 L1283.3 870.1 L1284.1 878.5 L1284.9 866.3 L1285.7 843.4 L1286.5 832.0 L1287.0 817.3 L1288.1 815.8 L1288.9 827.6 L1289.7 820.6 L1290.8 827.9 L1291.3 831.4 L1292.1 827.9 L1292.9 836.1 L1293.7 829.6 L1294.6 837.4 L1295.3 827.8 L1296.1 807.1 L1296.9 800.3 L1297.5 788.7 L1298.5 751.7 L1299.5 719.0 L1300.1 725.1 L1300.9 721.9 L1301.7 735.9 L1302.3 736.2 L1303.3 736.0 L1304.2 742.0 L1304.9 744.1 L1305.7 732.1 L1306.5 733.5 L1307.1 726.7 L1308.1 722.3 L1308.9 730.3 L1310.0 724.8 L1310.5 721.9 L1311.3 731.6 L1312.1 726.1 L1312.9 730.5 L1313.7 714.5 L1314.8 686.5 L1315.3 682.6 L1316.1 685.9 L1316.9 672.7 L1317.7 678.2 L1318.6 669.3 L1319.3 676.1 L1320.1 690.9 L1320.5 694.2 L1320.9 688.3 L1321.7 688.8 L1322.5 676.6 L1323.4 671.2 L1324.1 683.0 L1324.9 683.7 L1325.7 701.0 L1326.2 705.6 L1327.3 687.1 L1328.2 675.0 L1328.9 680.9 L1329.7 677.3 L1330.5 690.7 L1331.3 687.1 L1332.0 692.2 L1332.9 686.7 L1333.7 675.5 L1334.5 673.9 L1335.3 661.0 L1335.8 659.7 L1336.9 678.7 L1337.7 686.7 L1338.7 705.6 L1339.3 699.3 L1340.1 679.9 L1340.9 679.1 L1341.7 661.3 L1342.5 651.1 L1343.3 663.3 L1344.1 662.5 L1344.9 673.4 L1345.4 675.0 L1346.5 661.8 L1347.3 667.4 L1348.2 655.9 L1348.9 645.5 L1349.7 646.3 L1350.5 633.7 L1351.1 630.1 L1352.1 643.5 L1353.0 648.3 L1353.7 649.1 L1354.5 656.2 L1355.3 654.2 L1355.9 659.7 L1356.9 676.1 L1357.7 683.9 L1358.8 703.7 L1359.3 703.6 L1360.1 687.9 L1360.9 689.1 L1361.6 678.9 L1362.5 683.6 L1363.3 699.8 L1364.1 703.5 L1364.5 709.5 L1364.9 709.5 L1365.7 698.5 L1366.5 701.1 L1367.4 690.3 L1368.1 687.2 L1368.9 698.9 L1369.7 694.4 L1370.5 706.0 L1371.2 703.7 L1372.1 726.7 L1372.9 726.8 L1373.7 736.1 L1374.5 733.2 L1375.0 740.1 L1376.1 751.8 L1376.9 746.2 L1377.7 760.5 L1378.5 757.4 L1378.8 763.0 L1379.3 766.2 L1380.1 758.7 L1380.9 766.4 L1381.7 763.0 L1382.5 776.2 L1383.3 798.2 L1383.6 803.2 L1384.1 799.3 L1384.9 799.0 L1385.7 786.0 L1386.5 786.0 L1387.3 792.1 L1388.1 784.9 L1388.9 792.7 L1389.4 791.7 L1390.5 793.6 L1391.3 803.9 L1392.1 800.0 L1392.9 811.0 L1393.7 808.0 L1394.1 813.7 L1395.3 805.5 L1396.1 787.9 L1397.0 778.3 L1397.7 779.6 L1398.5 766.6 L1399.3 770.9 L1399.9 764.9 L1400.9 753.5 L1401.7 756.5 L1402.8 742.0 L1403.3 741.1 L1404.1 746.7 L1404.9 741.4 L1405.6 743.9 L1406.6 726.7 L1407.3 729.3 L1408.1 716.0 L1408.9 722.6 L1409.4 717.1 L1410.4 701.8 L1411.3 695.5 L1412.1 696.9 L1412.9 686.1 L1413.3 686.5 L1413.7 685.6 L1414.5 670.9 L1415.2 667.4 L1416.1 673.4 L1416.9 665.6 L1417.7 676.0 L1418.5 671.1 L1419.0 675.0 L1420.1 685.9 L1420.9 681.7 L1421.7 692.3 L1422.5 688.5 L1423.3 699.7 L1423.8 698.0 L1424.9 690.5 L1425.7 693.9 L1426.7 682.7 L1427.3 678.9 L1428.1 682.1 L1428.9 676.9 L1429.7 681.3 L1430.5 676.9 L1431.3 669.8 L1432.1 668.2 L1432.9 655.6 L1433.7 657.3 L1434.5 643.8 L1435.3 640.6 L1436.1 648.9 L1436.9 650.0 L1437.7 661.9 L1438.1 661.6 L1439.3 665.0 L1440.1 680.8 L1441.0 684.6 L1441.7 677.6 L1442.5 679.1 L1443.3 665.1 L1444.1 664.6 L1444.8 656.9 L1445.7 664.5 L1446.5 680.4 L1447.3 679.5 L1448.1 698.0 L1448.9 699.4 L1449.6 711.4 L1450.5 717.4 L1451.3 713.3 L1452.1 723.4 L1452.9 716.7 L1453.7 725.8 L1454.3 723.3 L1455.3 708.9 L1456.3 704.2 L1456.9 711.3 L1457.7 705.4 L1458.5 714.1 L1459.1 713.7 L1460.1 706.7 L1460.9 709.6 L1461.7 699.9 L1462.5 705.3 L1463.3 694.4 L1463.9 697.5 L1464.9 704.1 L1465.7 702.1 L1466.8 709.9 L1467.3 707.1 L1468.1 694.1 L1468.9 691.6 L1469.7 680.5 L1470.6 672.6 L1471.3 682.7 L1472.1 682.1 L1472.9 693.7 L1473.7 695.2 L1474.4 704.2 L1475.3 706.5 L1476.1 698.7 L1476.9 704.0 L1477.3 700.3 L1477.7 700.5 L1478.5 712.2 L1479.3 709.8 L1480.2 722.3 L1480.9 722.2 L1481.7 709.2 L1482.5 709.7 L1483.3 692.8 L1484.0 692.7 L1484.9 703.6 L1485.7 702.1 L1486.5 714.6 L1487.3 710.9 L1487.8 718.5 L1488.9 713.8 L1489.7 706.8 L1490.7 702.2 L1491.3 709.3 L1492.1 701.4 L1492.9 710.1 L1493.7 708.0 L1494.5 711.8 L1495.5 731.9 L1496.1 733.0 L1496.9 727.8 L1497.7 734.1 L1498.5 725.3 L1499.3 727.1 L1500.1 736.4 L1501.2 745.3 L1501.7 739.4 L1502.5 745.7 L1503.3 735.7 L1504.1 734.8 L1504.9 743.8 L1505.7 738.4 L1506.5 749.8 L1507.3 745.3 L1507.9 752.0 L1508.9 753.3 L1509.7 741.5 L1510.5 748.0 L1511.3 738.6 L1511.7 738.6 L1512.9 747.5 L1513.7 742.8 L1514.6 750.1 L1515.3 746.5 L1516.1 729.3 L1516.5 726.2 L1516.9 731.4 L1517.7 728.7 L1518.5 739.4 L1519.3 739.0 L1520.3 747.2 L1520.9 742.2 L1521.7 727.1 L1522.2 723.3 L1523.3 732.9 L1524.1 734.4 L1525.1 746.2 L1525.7 740.6 L1526.5 724.7 L1527.3 721.2 L1528.0 708.0 L1528.9 706.5 L1529.7 717.8 L1530.5 713.8 L1530.9 715.6 L1531.3 717.0 L1532.1 705.7 L1532.9 708.8 L1533.7 700.3 L1534.5 699.9 L1535.3 713.8 L1536.1 710.2 L1536.6 715.6 L1537.7 732.8 L1538.5 740.5 L1539.3 728.6 L1540.1 729.6 L1540.9 718.0 L1541.4 717.6 L1542.5 727.6 L1543.3 726.3 L1544.2 732.9 L1545.2 748.2 L1545.7 755.4 L1546.5 754.6 L1547.3 771.7 L1548.1 773.0 L1548.9 775.0 L1550.0 784.5 L1550.5 785.1 L1551.3 769.7 L1552.1 770.0 L1552.9 759.6 L1553.7 766.8 L1554.8 789.3 L1555.3 784.6 L1556.1 769.4 L1556.9 769.0 L1557.6 755.8 L1558.5 758.0 L1559.3 770.9 L1560.1 768.3 L1560.5 773.0 L1560.9 773.9 L1561.7 765.3 L1562.5 771.2 L1563.3 761.4 L1564.1 764.2 L1564.9 755.9 L1565.3 756.8 L1565.7 768.6 L1566.5 780.5 L1567.2 803.6 L1568.1 810.3 L1568.9 806.2 L1569.7 817.2 L1570.1 817.0 L1570.5 822.6 L1571.3 843.5 L1572.0 855.3 L1572.9 852.8 L1573.7 863.4 L1574.5 855.8 L1574.9 859.1 L1575.3 857.6 L1576.1 841.7 L1576.8 836.1 L1577.7 844.6 L1578.5 844.3 L1579.3 854.4 L1579.6 854.3 L1580.1 845.6 L1580.9 843.2 L1581.7 826.5 L1582.5 817.0 L1583.3 823.2 L1584.1 814.7 L1584.9 825.6 L1585.7 821.9 L1586.3 824.7 L1587.3 818.6 L1588.1 807.3 L1588.9 803.3 L1589.7 789.2 L1590.2 789.3 L1591.3 794.5 L1592.1 786.8 L1593.0 792.1 L1593.7 801.0 L1594.5 795.3 L1595.3 809.8 L1595.9 809.4 L1596.9 803.3 L1597.7 810.0 L1598.8 803.6 L1599.3 805.5 L1600.1 822.5 L1600.9 823.0 L1601.6 836.1 L1602.5 855.1 L1603.5 874.4 L1604.1 867.0 L1604.9 869.0 L1605.7 855.4 L1606.4 855.3 L1607.3 845.4 L1608.1 830.8 L1608.9 823.5 L1609.7 806.6 L1610.2 803.6 L1611.3 806.5 L1612.1 794.4 L1613.1 796.0 L1613.7 796.6 L1614.5 785.7 L1615.3 792.7 L1616.1 780.8 L1616.9 784.1 L1617.9 777.8 L1618.5 782.4 L1619.3 798.1 L1620.1 802.0 L1620.8 813.2 L1621.7 816.5 L1622.5 808.9 L1623.3 816.6 L1623.6 813.2 L1624.1 815.1 L1624.9 825.4 L1625.7 825.4 L1626.5 832.3 L1627.3 826.4 L1628.1 811.5 L1628.9 812.6 L1629.7 795.0 L1630.3 794.1 L1631.3 797.2 L1632.1 792.4 L1632.9 796.6 L1633.7 789.4 L1634.5 798.9 L1635.1 793.1 L1636.1 794.6 L1636.9 810.1 L1638.0 815.1 L1638.5 817.9 L1639.3 831.1 L1639.9 836.1 L1640.9 825.0 L1641.7 825.9 L1642.5 816.1 L1643.3 813.4 L1643.7 809.4 L1644.1 809.7 L1644.9 817.3 L1645.7 813.5 L1646.5 823.5 L1647.5 820.8 L1648.1 816.9 L1648.9 820.0 L1649.7 809.1 L1650.4 807.5 L1651.3 814.8 L1652.3 820.8 L1652.9 808.3 L1653.7 802.8 L1654.2 792.1 L1655.3 785.4 L1656.1 790.6 L1657.1 786.4 L1657.7 773.1 L1658.5 762.1 L1659.0 746.2 L1660.1 739.9 L1660.9 748.6 L1661.7 737.3 L1662.5 742.3 L1663.3 735.7 L1663.8 738.6 L1664.9 741.6 L1665.7 732.4 L1666.5 740.3 L1667.3 732.0 L1667.6 732.9 L1668.1 737.7 L1668.9 729.7 L1669.7 736.6 L1670.5 735.0 L1671.3 741.6 L1672.4 738.6 L1672.9 737.7 L1673.7 748.6 L1674.5 749.7 L1675.3 757.7 L1676.1 758.7 L1676.9 748.3 L1677.7 750.7 L1678.1 744.3 L1679.3 756.6 L1680.1 771.1 L1680.9 780.7 L1681.7 784.3 L1682.5 798.3 L1682.9 799.8 L1684.1 777.0 L1684.8 767.3 L1685.7 769.0 L1686.5 759.9 L1687.3 764.2 L1688.1 753.6 L1688.9 758.1 L1690.0 750.1 L1690.5 744.3 L1691.5 742.4 L1692.1 738.2 L1692.9 722.1 L1693.7 720.2 L1694.3 707.0 L1695.3 706.9 L1696.1 722.4 L1697.2 724.2 L1697.7 715.8 L1698.5 712.3 L1699.1 702.3 L1700.1 713.7 L1701.0 728.1 L1701.7 729.2 L1702.5 712.9 L1703.3 716.8 L1703.9 707.0 L1704.8 682.2 L1705.7 676.7 L1706.5 680.9 L1707.3 669.7 L1707.7 672.6 L1708.1 667.2 L1708.9 640.8 L1709.6 626.8 L1710.5 637.3 L1711.3 638.8 L1712.1 653.4 L1712.5 653.5 L1712.9 649.5 L1713.7 651.3 L1714.5 638.2 L1715.4 637.3 L1716.1 648.0 L1716.9 643.4 L1717.7 656.9 L1718.5 659.1 L1719.3 668.7 L1720.1 672.6 L1720.9 664.5 L1721.7 666.4 L1722.5 652.5 L1723.0 653.5 L1724.1 659.7 L1724.9 653.4 L1725.9 655.4 L1726.5 663.4 L1727.3 656.9 L1728.1 671.0 L1728.7 668.8 L1729.7 656.5 L1730.5 655.8 L1731.6 643.0 L1732.1 639.8 L1732.9 650.4 L1733.7 642.3 L1734.5 653.8 L1735.3 646.9 L1736.1 652.8 L1736.9 649.6 L1737.3 653.5 L1738.5 653.7 L1739.3 643.2 L1740.1 646.7 L1741.2 637.3 L1741.7 640.8 L1742.5 660.9 L1743.3 667.6 L1744.0 684.1 L1744.9 691.1 L1745.7 685.6 L1746.5 693.6 L1747.3 691.5 L1747.9 695.6 L1748.9 692.2 L1749.8 680.3 L1750.5 664.2 L1751.3 660.1 L1752.1 642.6 L1752.6 635.4 L1753.7 646.3 L1754.5 640.9 L1755.5 651.6 L1756.1 652.3 L1756.9 644.0 L1757.7 651.3 L1758.4 644.0 L1759.3 625.8 L1760.3 617.2 L1760.9 614.7 L1761.7 599.2 L1762.5 598.5 L1763.3 584.0 L1764.2 576.8 L1764.9 570.0 L1765.7 555.7 L1766.5 551.9 L1767.0 540.5 L1768.1 535.8 L1768.9 541.4 L1769.9 535.7 L1770.5 543.8 L1771.3 565.7 L1771.8 573.0 L1772.9 576.4 L1773.7 582.6 L1774.5 581.0 L1775.3 570.4 L1776.1 576.2 L1776.9 568.3 L1777.6 567.3 L1778.5 575.2 L1779.3 569.2 L1780.1 578.5 L1780.4 578.8 L1780.9 590.9 L1781.4 611.3 L1782.5 640.9 L1783.3 658.1 L1784.1 648.0 L1784.9 646.4 L1785.7 637.2 L1786.5 637.9 L1787.1 626.6 L1788.1 613.6 L1788.9 616.1 L1790.0 603.6 L1790.5 603.4 L1791.3 613.8 L1792.1 611.2 L1792.9 620.8 L1793.7 608.6 L1794.8 584.5 L1795.3 573.2 L1796.1 572.5 L1796.7 559.6 L1797.7 560.4 L1798.6 571.1 L1799.3 574.7 L1800.1 563.8 L1800.9 564.9 L1801.7 558.7 L1802.5 560.3 L1803.3 553.9 L1804.3 552.0 L1804.9 555.1 L1805.7 552.6 L1806.5 564.5 L1807.2 561.5 L1808.1 561.6 L1808.9 574.0 L1809.7 567.7 L1810.1 573.0 L1810.5 568.0 L1811.3 551.0 L1812.0 544.3 L1812.9 535.9 L1813.9 519.5 L1814.5 515.9 L1815.3 520.7 L1816.1 509.8 L1816.8 509.9 L1817.7 503.0 L1818.5 485.2 L1819.3 483.4 L1819.6 475.5 L1820.1 466.7 L1820.9 462.9 L1821.7 446.3 L1822.5 439.1 L1823.3 440.8 L1824.1 432.7 L1824.9 444.1 L1825.7 435.6 L1826.5 438.9 L1827.3 437.2 L1828.1 429.3 L1829.2 423.8 L1829.7 428.6 L1830.5 425.1 L1831.3 440.4 L1832.1 439.1 L1832.9 438.7 L1834.0 450.6 L1834.5 456.0 L1835.3 456.8 L1836.1 473.3 L1836.8 475.5 L1837.7 464.6 L1838.5 468.4 L1839.3 455.0 L1839.7 452.5 L1840.1 455.3 L1840.9 453.1 L1841.7 467.3 L1842.6 465.9 L1843.3 458.7 L1844.1 462.6 L1844.9 452.7 L1845.7 458.4 L1846.5 448.7 L1847.4 446.8 L1848.1 450.9 L1848.9 447.3 L1849.7 453.2 L1850.5 449.5 L1851.2 454.4 L1852.1 452.7 L1852.9 445.0 L1853.7 445.8 L1854.5 436.4 L1855.0 438.2 L1856.1 441.2 L1856.9 436.6 L1857.9 443.0 L1858.5 451.5 L1859.3 457.0 L1860.1 473.0 L1860.9 474.1 L1861.7 491.0 L1862.7 496.5 L1863.3 487.6 L1864.1 493.6 L1864.9 481.5 L1865.5 479.3 L1866.5 481.2 L1867.3 475.0 L1868.1 481.2 L1868.9 470.0 L1869.4 473.6 L1870.5 467.8 L1871.3 456.3 L1872.1 451.4 L1872.9 456.0 L1873.7 446.4 L1874.5 453.5 L1875.1 448.7 L1876.1 430.0 L1877.0 420.0 L1877.7 433.6 L1878.5 443.9 L1879.3 462.0 L1879.9 471.6 L1880.9 469.6 L1881.7 480.3 L1882.8 479.3 L1883.3 473.0 L1884.1 472.8 L1884.9 457.8 L1885.6 453.5 L1886.5 462.0 L1887.3 461.9 L1888.1 470.7 L1888.5 471.6 L1888.9 466.1 L1889.7 467.4 L1890.4 460.2 L1891.3 450.8 L1892.1 449.6 L1892.9 436.5 L1893.7 437.6 L1894.2 427.7 L1895.3 429.0 L1896.1 439.1 L1896.9 434.1 L1897.7 441.5 L1898.1 439.1 L1898.5 438.7 L1899.3 449.0 L1900.1 448.4 L1900.9 457.3 L1901.7 453.2 L1902.5 441.0 L1903.3 438.1 L1903.8 431.5 L1904.9 426.9 L1905.7 434.6 L1906.5 421.5 L1907.3 429.6 L1907.6 425.7 L1908.1 429.4 L1908.9 442.1 L1909.5 446.8 L1910.5 439.0 L1911.3 444.1 L1912.1 436.0 L1912.9 441.4 L1913.7 431.0 L1914.3 435.3 L1915.3 449.9 L1916.1 454.8 L1917.2 475.5 L1917.7 475.8 L1918.5 468.5 L1919.3 468.3 L1920.1 458.7 L1921.0 460.2 L1921.7 463.1 L1922.5 456.3 L1923.3 460.6 L1924.1 450.8 L1924.8 455.4 L1925.7 446.4 L1926.7 429.6 L1927.3 426.5 L1928.1 432.2 L1928.9 428.7 L1930.0 431.5 L1930.5 435.4 L1931.3 427.1 L1932.1 433.2 L1932.4 432.0 L1932.9 417.8 L1933.4 403.3 L1934.5 394.1 L1935.3 380.4 L1936.3 374.6 L1936.9 374.5 L1937.7 363.6 L1938.5 363.5 L1939.1 357.4 L1940.1 359.5 L1940.9 373.6 L1942.0 376.5 L1942.5 368.1 L1943.3 368.6 L1944.1 355.0 L1944.9 349.7 L1945.7 354.9 L1946.5 352.2 L1947.3 363.7 L1948.1 359.5 L1948.7 366.9 L1949.7 374.9 L1950.5 373.7 L1951.6 386.1 L1952.1 383.7 L1952.9 368.6 L1953.7 371.8 L1954.4 359.3 L1955.3 348.2 L1956.1 345.8 L1956.9 333.4 L1957.3 333.5 L1957.7 337.6 L1958.5 334.4 L1959.3 346.6 L1960.1 346.3 L1960.9 357.9 L1961.7 355.0 L1962.1 359.3 L1962.5 358.4 L1963.3 349.8 L1964.1 352.4 L1964.9 342.7 L1965.9 338.3 L1966.5 338.8 L1967.3 327.8 L1968.1 330.6 L1968.9 320.9 L1969.7 318.2 L1970.5 328.1 L1971.3 324.2 L1972.1 340.5 L1972.9 338.2 L1973.6 345.9 L1974.5 347.6 L1975.3 337.3 L1976.1 342.6 L1976.9 333.9 L1977.4 333.5 L1978.5 336.7 L1979.3 323.9 L1980.1 331.7 L1981.2 325.8 L1981.7 326.6 L1982.5 339.3 L1983.3 338.0 L1984.1 349.3 L1985.0 355.5 L1985.7 347.7 L1986.5 353.4 L1987.3 346.7 L1988.1 348.1 L1988.9 344.0 L1989.7 348.5 L1990.5 362.8 L1991.3 363.1 L1992.1 372.9 L1992.7 376.5 L1993.7 382.1 L1994.5 397.1 L1995.6 406.2 L1996.1 400.4 L1996.9 398.4 L1997.7 383.2 L1998.4 380.3 L1999.3 387.4 L2000.1 382.3 L2000.9 391.8 L2001.7 388.1 L2002.2 395.6 L2003.3 400.8 L2004.1 395.1 L2004.9 398.7 L2005.7 394.9 L2006.1 397.6 L2006.5 401.6 L2007.3 400.0 L2008.1 407.7 L2008.9 406.1 L2009.7 414.5 L2010.5 413.4 L2010.9 417.6 L2011.3 415.1 L2012.1 397.6 L2012.9 391.4 L2013.7 370.7 L2014.7 360.3 L2015.3 367.6 L2016.1 367.9 L2016.9 386.2 L2017.7 384.8 L2018.5 395.6 L2019.3 389.0 L2020.1 370.1 L2020.9 368.1 L2021.4 358.3 L2022.5 367.2 L2023.3 384.9 L2024.2 389.9 L2024.9 379.6 L2025.7 380.4 L2026.5 368.3 L2027.1 365.0 L2028.1 372.1 L2028.9 369.6 L2029.7 382.4 L2030.5 376.1 L2030.9 382.2 L2032.1 384.1 L2032.9 370.7 L2033.8 372.7 L2034.5 375.5 L2035.3 365.8 L2036.1 367.9 L2036.9 355.4 L2037.6 358.3 L2038.5 372.6 L2039.3 372.8 L2040.1 385.8 L2040.5 388.0 L2040.9 382.5 L2041.7 381.6 L2042.5 368.5 L2043.3 367.4 L2044.3 357.4 L2044.9 351.2 L2045.7 353.0 L2046.5 343.3 L2047.2 340.2 L2048.1 335.7 L2048.9 322.1 L2049.7 325.4 L2050.1 319.1 L2050.5 314.2 L2051.3 320.1 L2052.1 308.5 L2052.9 316.9 L2053.9 308.6 L2054.5 298.8 L2055.3 297.4 L2056.1 295.1 L2056.9 285.6 L2057.7 288.6 L2058.5 277.9 L2059.1 279.2 L2060.1 279.8 L2060.9 271.9 L2061.7 279.8 L2062.5 269.1 L2063.0 271.5 L2064.1 284.7 L2064.9 286.4 L2065.8 299.3 L2066.5 298.6 L2067.3 284.6 L2068.1 287.9 L2068.9 277.7 L2069.7 279.7 L2070.6 269.6 L2071.3 249.3 L2072.1 231.7 L2072.5 216.1 L2072.9 210.7 L2073.7 213.2 L2074.5 202.5 L2075.4 199.8 L2076.1 213.8 L2076.9 220.1 L2077.3 229.5 L2077.7 232.6 L2078.5 233.9 L2079.3 241.8 L2080.2 244.8 L2080.9 237.3 L2081.7 236.4 L2082.1 231.4 L2082.5 230.1 L2083.3 234.9 L2084.1 231.7 L2084.9 238.0 L2085.9 235.2 L2086.5 234.4 L2087.3 249.3 L2088.1 247.1 L2088.8 256.2 L2089.7 261.8 L2090.5 256.3 L2091.3 262.5 L2091.6 260.1 L2092.1 260.8 L2092.9 273.1 L2093.7 271.1 L2094.5 284.7 L2095.5 288.8 L2096.1 288.5 L2096.9 296.7 L2097.7 295.3 L2098.5 304.4 L2099.3 300.9 L2100.3 307.9 L2100.9 304.5 L2101.7 289.6 L2102.5 284.2 L2103.3 266.4 L2104.1 262.0 L2104.9 260.8 L2105.7 251.0 L2106.5 254.8 L2107.3 245.1 L2107.9 244.8 L2108.9 260.4 L2109.7 259.8 L2110.5 275.3 L2111.3 276.9 L2111.7 283.0 L2112.9 285.3 L2113.7 278.9 L2114.6 284.9 L2115.6 311.7 L2116.1 311.3 L2116.9 301.9 L2117.7 301.4 L2118.4 293.5 L2119.3 300.4 L2120.1 318.0 L2120.9 321.2 L2121.7 334.8 L2122.5 336.3 L2123.3 356.4 L2124.2 362.4 L2124.9 357.4 L2125.7 358.7 L2126.5 349.7 L2127.0 350.0 L2128.1 344.8 L2128.9 328.8 L2129.7 330.9 L2130.5 314.8 L2130.9 314.6 L2131.3 319.7 L2132.1 317.5 L2132.9 332.1 L2133.7 332.8 L2134.5 328.4 L2135.3 337.3 L2136.1 330.0 L2136.6 334.7 L2137.7 328.2 L2138.5 309.7 L2139.5 305.0 L2140.1 312.1 L2140.9 311.9 L2141.7 325.5 L2142.5 326.4 L2143.3 338.5 L2144.1 346.4 L2145.2 348.1 L2145.7 337.2 L2146.5 332.0 L2147.3 308.5 L2148.1 301.8 L2149.0 282.1 L2149.7 285.9 L2150.5 307.1 L2151.3 308.6 L2151.9 321.3 L2152.9 315.6 L2153.8 304.1 L2154.5 301.0 L2155.3 308.2 L2156.1 300.5 L2156.9 308.2 L2157.6 306.0 L2158.5 292.9 L2159.3 290.2 L2160.1 273.7 L2160.9 269.9 L2161.7 252.6 L2162.4 248.6 L2163.3 242.8 L2164.3 223.7 L2164.9 218.3 L2165.7 221.7 L2166.5 213.1 L2167.3 214.6 L2168.2 208.4 L2168.9 209.0 L2169.7 217.7 L2170.5 212.5 L2171.3 220.9 L2172.0 221.8 L2172.9 212.9 L2173.7 218.2 L2174.5 207.2 L2175.3 214.2 L2175.8 207.5 L2176.9 208.4 L2177.7 221.4 L2178.7 225.6 L2179.3 226.6 L2180.1 241.0 L2180.9 239.7 L2181.7 248.0 L2182.5 252.4 L2183.3 243.1 L2184.1 245.0 L2184.9 230.2 L2185.7 235.2 L2186.3 225.6 L2187.3 220.0 L2188.1 228.1 L2188.9 216.9 L2189.7 221.9 L2190.2 218.0 L2191.3 205.3 L2192.1 207.0 L2193.0 196.9 L2193.7 188.9 L2194.5 189.4 L2195.3 176.1 L2195.9 174.0 L2196.9 193.4 L2197.8 200.8 L2198.5 190.3 L2199.3 190.4 L2199.7 183.6 L2200.1 180.7 L2200.9 180.4 L2201.7 170.0 L2202.6 168.3 L2203.3 175.8 L2204.1 172.2 L2204.9 185.7 L2205.5 183.6 L2206.5 174.0 L2207.3 180.4 L2208.3 173.0 L2208.9 173.8 L2209.7 186.6 L2210.5 182.1 L2211.2 193.1 L2212.1 192.5 L2212.9 182.7 L2213.7 186.6 L2214.1 181.6 L2214.5 180.8 L2215.3 186.0 L2216.1 178.4 L2216.9 185.5 L2217.7 203.9 L2218.5 210.8 L2218.8 219.9 L2219.3 219.4 L2220.1 209.5 L2220.9 216.3 L2221.7 203.5 L2222.7 204.6 L2223.3 210.8 L2224.1 199.8 L2224.9 208.9 L2225.7 204.1 L2226.5 206.5 L2227.3 213.0 L2228.1 210.7 L2228.9 222.0 L2229.7 220.3 L2230.3 225.6 L2231.3 223.9 L2232.1 214.4 L2233.2 214.2 L2233.7 218.4 L2234.5 213.8 L2235.3 224.3 L2236.1 215.7 L2237.0 221.8 L2237.7 225.8 L2238.5 224.4 L2239.3 235.8 L2240.1 231.4 L2240.8 237.1 L2241.7 233.9 L2242.5 220.7 L2243.3 216.4 L2243.7 210.3 L2244.1 212.9 L2244.9 232.9 L2245.6 240.9 L2246.5 223.0 L2247.5 210.3 L2248.1 209.8 L2248.9 200.5 L2249.7 204.2 L2250.4 196.9 L2251.3 198.8 L2252.1 209.6 L2252.9 205.5 L2253.7 218.9 L2254.2 216.1 L2255.3 218.3 L2256.1 230.3 L2256.9 230.1 L2257.7 238.0 L2258.1 239.0 L2258.5 235.0 L2259.3 238.7 L2260.1 234.0 L2260.9 234.2 L2261.7 239.4 L2262.5 237.1 L2263.3 249.4 L2264.1 243.5 L2264.8 250.5 L2265.7 245.2 L2266.5 229.5 L2267.3 222.7 L2267.6 218.0 L2268.1 213.1 L2268.9 217.4 L2269.7 207.9 L2270.5 210.3 L2271.3 217.4 L2272.1 216.7 L2272.9 225.1 L2273.4 225.6 L2274.5 213.6 L2275.3 213.4 L2276.2 198.9 L2276.9 197.1 L2277.7 206.8 L2278.5 203.3 L2279.3 212.6 L2280.1 212.2 L2280.9 200.2 L2282.0 187.4 L2282.5 190.0 L2283.3 178.2 L2283.9 179.7 L2284.9 169.2 L2285.8 148.2 L2285.9 147.9" fill="none" stroke="#000" stroke-width="3" stroke-linejoin="bevel"/>
<rect x="75.2" y="895.2" width="747.1" height="11.5" fill="rgba(119,131,151,0.25)" stroke="rgba(100,120,140,0.22)" stroke-width="1"/><rect x="793.3" y="773.3" width="525.2" height="14.4" fill="rgba(119,131,151,0.25)" stroke="rgba(100,120,140,0.22)" stroke-width="1"/><rect x="1223.3" y="627.2" width="782.5" height="13.4" fill="rgba(119,131,151,0.25)" stroke="rgba(100,120,140,0.22)" stroke-width="1"/><rect x="1794.4" y="423.3" width="260.5" height="12.3" fill="rgba(119,131,151,0.25)" stroke="rgba(100,120,140,0.22)" stroke-width="1"/><rect x="1921.0" y="318.5" width="317.5" height="5.1" fill="rgba(119,131,151,0.25)" stroke="rgba(100,120,140,0.22)" stroke-width="1"/><rect x="2048.0" y="200.4" width="291.8" height="5.2" fill="rgba(119,131,151,0.25)" stroke="rgba(100,120,140,0.22)" stroke-width="1"/><rect x="2153.2" y="168.3" width="186.3" height="3.4" fill="rgba(119,131,151,0.25)" stroke="rgba(100,120,140,0.22)" stroke-width="1"/>
<path d="M93.2 991.5 L93.2 992.9 L93.2 994.4 L93.3 995.8 L93.4 997.2 L93.5 998.7 L93.6 1000.1 L93.8 1001.5 L94.0 1003.0 L94.2 1004.4 L94.5 1005.8 L94.8 1007.3 L95.1 1008.7 L95.4 1010.1 L95.8 1011.6 L96.2 1013.0 L96.6 1014.4 L97.0 1015.8 L97.5 1017.3 L98.0 1018.7 L98.5 1020.1 L99.1 1021.5 L99.6 1022.9 L100.2 1024.4 L100.9 1025.8 L101.5 1027.2 L102.2 1028.6 L102.9 1030.0 L103.6 1031.4 L104.4 1032.8 L105.2 1034.2 L106.0 1035.6 L106.8 1037.0 L107.7 1038.4 L108.6 1039.8 L109.5 1041.2 L110.4 1042.5 L111.4 1043.9 L112.4 1045.3 L113.4 1046.7 L114.5 1048.0 L115.5 1049.4 L116.6 1050.8 L117.7 1052.1 L118.9 1053.5 L120.1 1054.8 L121.2 1056.2 L122.5 1057.5 L123.7 1058.9 L125.0 1060.2 L126.3 1061.5 L127.6 1062.9 L128.9 1064.2 L130.3 1065.5 L131.7 1066.8 L133.1 1068.2 L134.5 1069.5 L136.0 1070.8 L137.5 1072.1 L139.0 1073.3 L140.5 1074.6 L142.1 1075.9 L143.6 1077.2 L145.2 1078.5 L146.9 1079.7 L148.5 1081.0 L150.2 1082.3 L151.9 1083.5 L153.6 1084.8 L155.3 1086.0 L157.1 1087.2 L158.9 1088.5 L160.7 1089.7 L162.5 1090.9 L164.3 1092.1 L166.2 1093.3 L168.1 1094.5 L170.0 1095.7 L171.9 1096.9 L173.9 1098.1 L175.8 1099.2 L177.8 1100.4 L179.8 1101.6 L181.9 1102.7 L183.9 1103.9 L186.0 1105.0 L188.1 1106.1 L190.2 1107.3 L192.3 1108.4 L194.5 1109.5 L196.7 1110.6 L198.9 1111.7 L201.1 1112.8 L203.3 1113.9 L205.5 1114.9 L207.8 1116.0 L210.1 1117.1 L212.4 1118.1 L214.7 1119.2 L217.1 1120.2 L219.4 1121.2 L221.8 1122.3 L224.2 1123.3 L226.6 1124.3 L229.0 1125.3 L231.4 1126.3 L233.9 1127.2 L236.4 1128.2 L238.8 1129.2 L241.4 1130.1 L243.9 1131.1 L246.4 1132.0 L249.0 1132.9 L251.5 1133.8 L254.1 1134.8 L256.7 1135.7 L259.3 1136.5 L261.9 1137.4 L264.6 1138.3 L267.2 1139.2 L269.9 1140.0 L272.6 1140.9 L275.2 1141.7 L277.9 1142.5 L280.7 1143.3 L283.4 1144.1 L286.1 1144.9 L288.9 1145.7 L291.7 1146.5 L294.4 1147.3 L297.2 1148.0 L300.0 1148.7 L302.8 1149.5 L305.7 1150.2 L308.5 1150.9 L311.3 1151.6 L314.2 1152.3 L317.1 1153.0 L319.9 1153.7 L322.8 1154.3 L325.7 1155.0 L328.6 1155.6 L331.5 1156.2 L334.4 1156.8 L337.4 1157.4 L340.3 1158.0 L343.3 1158.6 L346.2 1159.2 L349.2 1159.7 L352.1 1160.3 L355.1 1160.8 L358.1 1161.3 L361.1 1161.8 L364.1 1162.3 L367.1 1162.8 L370.1 1163.3 L373.1 1163.7 L376.1 1164.1 L379.2 1164.6 L382.2 1165.0 L385.2 1165.4 L388.3 1165.8 L391.3 1166.1 L394.4 1166.5 L397.4 1166.8 L400.5 1167.2 L403.5 1167.5 L406.6 1167.8 L409.7 1168.1 L412.7 1168.3 L415.8 1168.6 L418.9 1168.8 L421.9 1169.0 L425.0 1169.2 L428.1 1169.4 L431.2 1169.6 L434.3 1169.7 L437.3 1169.8 L440.4 1169.9 L443.5 1170.0 L446.6 1170.0 L449.7 1170.0 L452.8 1169.9 L455.9 1169.8 L458.9 1169.7 L462.0 1169.6 L465.1 1169.4 L468.2 1169.2 L471.3 1169.0 L474.3 1168.8 L477.4 1168.6 L480.5 1168.3 L483.5 1168.1 L486.6 1167.8 L489.7 1167.5 L492.7 1167.2 L495.8 1166.8 L498.8 1166.5 L501.9 1166.1 L504.9 1165.8 L508.0 1165.4 L511.0 1165.0 L514.0 1164.6 L517.1 1164.1 L520.1 1163.7 L523.1 1163.3 L526.1 1162.8 L529.1 1162.3 L532.1 1161.8 L535.1 1161.3 L538.1 1160.8 L541.1 1160.3 L544.0 1159.7 L547.0 1159.2 L549.9 1158.6 L552.9 1158.0 L555.8 1157.4 L558.8 1156.8 L561.7 1156.2 L564.6 1155.6 L567.5 1155.0 L570.4 1154.3 L573.3 1153.7 L576.1 1153.0 L579.0 1152.3 L581.9 1151.6 L584.7 1150.9 L587.5 1150.2 L590.4 1149.5 L593.2 1148.7 L596.0 1148.0 L598.8 1147.3 L601.5 1146.5 L604.3 1145.7 L607.1 1144.9 L609.8 1144.1 L612.5 1143.3 L615.3 1142.5 L618.0 1141.7 L620.6 1140.9 L623.3 1140.0 L626.0 1139.2 L628.6 1138.3 L631.3 1137.4 L633.9 1136.5 L636.5 1135.7 L639.1 1134.8 L641.7 1133.8 L644.2 1132.9 L646.8 1132.0 L649.3 1131.1 L651.8 1130.1 L654.4 1129.2 L656.8 1128.2 L659.3 1127.2 L661.8 1126.3 L664.2 1125.3 L666.6 1124.3 L669.0 1123.3 L671.4 1122.3 L673.8 1121.2 L676.1 1120.2 L678.5 1119.2 L680.8 1118.1 L683.1 1117.1 L685.4 1116.0 L687.7 1114.9 L689.9 1113.9 L692.1 1112.8 L694.3 1111.7 L696.5 1110.6 L698.7 1109.5 L700.9 1108.4 L703.0 1107.3 L705.1 1106.1 L707.2 1105.0 L709.3 1103.9 L711.3 1102.7 L713.4 1101.6 L715.4 1100.4 L717.4 1099.2 L719.3 1098.1 L721.3 1096.9 L723.2 1095.7 L725.1 1094.5 L727.0 1093.3 L728.9 1092.1 L730.7 1090.9 L732.5 1089.7 L734.3 1088.5 L736.1 1087.2 L737.9 1086.0 L739.6 1084.8 L741.3 1083.5 L743.0 1082.3 L744.7 1081.0 L746.3 1079.7 L748.0 1078.5 L749.6 1077.2 L751.1 1075.9 L752.7 1074.6 L754.2 1073.3 L755.7 1072.1 L757.2 1070.8 L758.7 1069.5 L760.1 1068.2 L761.5 1066.8 L762.9 1065.5 L764.3 1064.2 L765.6 1062.9 L766.9 1061.5 L768.2 1060.2 L769.5 1058.9 L770.7 1057.5 L772.0 1056.2 L773.1 1054.8 L774.3 1053.5 L775.5 1052.1 L776.6 1050.8 L777.7 1049.4 L778.7 1048.0 L779.8 1046.7 L780.8 1045.3 L781.8 1043.9 L782.8 1042.5 L783.7 1041.2 L784.6 1039.8 L785.5 1038.4 L786.4 1037.0 L787.2 1035.6 L788.0 1034.2 L788.8 1032.8 L789.6 1031.4 L790.3 1030.0 L791.0 1028.6 L791.7 1027.2 L792.3 1025.8 L793.0 1024.4 L793.6 1022.9 L794.1 1021.5 L794.7 1020.1 L795.2 1018.7 L795.7 1017.3 L796.2 1015.8 L796.6 1014.4 L797.0 1013.0 L797.4 1011.6 L797.8 1010.1 L798.1 1008.7 L798.4 1007.3 L798.7 1005.8 L799.0 1004.4 L799.2 1003.0 L799.4 1001.5 L799.6 1000.1 L799.7 998.7 L799.8 997.2 L799.9 995.8 L800.0 994.4 L800.0 992.9 L800.0 991.5" fill="none" stroke="#008000" stroke-width="5.6"/><path d="M833.9 874.3 L833.9 875.9 L833.9 877.6 L834.0 879.2 L834.1 880.8 L834.1 882.5 L834.2 884.1 L834.4 885.7 L834.5 887.4 L834.7 889.0 L834.9 890.6 L835.1 892.3 L835.3 893.9 L835.5 895.5 L835.8 897.1 L836.0 898.8 L836.3 900.4 L836.6 902.0 L837.0 903.6 L837.3 905.2 L837.7 906.8 L838.1 908.5 L838.5 910.1 L838.9 911.7 L839.4 913.3 L839.8 914.9 L840.3 916.5 L840.8 918.1 L841.3 919.7 L841.9 921.3 L842.4 922.8 L843.0 924.4 L843.6 926.0 L844.2 927.6 L844.8 929.2 L845.5 930.7 L846.1 932.3 L846.8 933.9 L847.5 935.4 L848.2 937.0 L849.0 938.5 L849.7 940.1 L850.5 941.6 L851.3 943.1 L852.1 944.7 L852.9 946.2 L853.8 947.7 L854.6 949.2 L855.5 950.8 L856.4 952.3 L857.3 953.8 L858.2 955.3 L859.2 956.8 L860.2 958.2 L861.1 959.7 L862.1 961.2 L863.2 962.7 L864.2 964.1 L865.2 965.6 L866.3 967.0 L867.4 968.5 L868.5 969.9 L869.6 971.3 L870.7 972.8 L871.9 974.2 L873.0 975.6 L874.2 977.0 L875.4 978.4 L876.6 979.8 L877.9 981.2 L879.1 982.6 L880.4 983.9 L881.6 985.3 L882.9 986.6 L884.2 988.0 L885.5 989.3 L886.9 990.6 L888.2 992.0 L889.6 993.3 L891.0 994.6 L892.4 995.9 L893.8 997.2 L895.2 998.5 L896.6 999.7 L898.1 1001.0 L899.6 1002.3 L901.0 1003.5 L902.5 1004.7 L904.0 1006.0 L905.6 1007.2 L907.1 1008.4 L908.6 1009.6 L910.2 1010.8 L911.8 1012.0 L913.4 1013.2 L915.0 1014.3 L916.6 1015.5 L918.2 1016.6 L919.9 1017.8 L921.5 1018.9 L923.2 1020.0 L924.8 1021.1 L926.5 1022.2 L928.2 1023.3 L929.9 1024.4 L931.7 1025.4 L933.4 1026.5 L935.2 1027.5 L936.9 1028.6 L938.7 1029.6 L940.5 1030.6 L942.3 1031.6 L944.1 1032.6 L945.9 1033.6 L947.7 1034.5 L949.5 1035.5 L951.4 1036.4 L953.2 1037.4 L955.1 1038.3 L957.0 1039.2 L958.8 1040.1 L960.7 1041.0 L962.6 1041.9 L964.6 1042.7 L966.5 1043.6 L968.4 1044.4 L970.3 1045.2 L972.3 1046.1 L974.3 1046.9 L976.2 1047.7 L978.2 1048.4 L980.2 1049.2 L982.2 1050.0 L984.2 1050.7 L986.2 1051.4 L988.2 1052.1 L990.2 1052.8 L992.2 1053.5 L994.2 1054.2 L996.3 1054.9 L998.3 1055.5 L1000.4 1056.2 L1002.4 1056.8 L1004.5 1057.4 L1006.6 1058.0 L1008.7 1058.6 L1010.7 1059.2 L1012.8 1059.7 L1014.9 1060.3 L1017.0 1060.8 L1019.1 1061.3 L1021.2 1061.8 L1023.3 1062.3 L1025.5 1062.8 L1027.6 1063.2 L1029.7 1063.7 L1031.8 1064.1 L1034.0 1064.5 L1036.1 1064.9 L1038.3 1065.3 L1040.4 1065.7 L1042.6 1066.0 L1044.7 1066.4 L1046.9 1066.7 L1049.0 1067.0 L1051.2 1067.3 L1053.3 1067.6 L1055.5 1067.8 L1057.7 1068.1 L1059.8 1068.3 L1062.0 1068.5 L1064.2 1068.7 L1066.4 1068.9 L1068.5 1069.0 L1070.7 1069.2 L1072.9 1069.3 L1075.1 1069.4 L1077.3 1069.5 L1079.4 1069.5 L1081.6 1069.6 L1083.8 1069.6 L1086.0 1069.6 L1088.2 1069.5 L1090.3 1069.5 L1092.5 1069.4 L1094.7 1069.3 L1096.9 1069.2 L1099.1 1069.0 L1101.2 1068.9 L1103.4 1068.7 L1105.6 1068.5 L1107.8 1068.3 L1109.9 1068.1 L1112.1 1067.8 L1114.3 1067.6 L1116.4 1067.3 L1118.6 1067.0 L1120.7 1066.7 L1122.9 1066.4 L1125.0 1066.0 L1127.2 1065.7 L1129.3 1065.3 L1131.5 1064.9 L1133.6 1064.5 L1135.8 1064.1 L1137.9 1063.7 L1140.0 1063.2 L1142.1 1062.8 L1144.3 1062.3 L1146.4 1061.8 L1148.5 1061.3 L1150.6 1060.8 L1152.7 1060.3 L1154.8 1059.7 L1156.9 1059.2 L1158.9 1058.6 L1161.0 1058.0 L1163.1 1057.4 L1165.2 1056.8 L1167.2 1056.2 L1169.3 1055.5 L1171.3 1054.9 L1173.4 1054.2 L1175.4 1053.5 L1177.4 1052.8 L1179.4 1052.1 L1181.4 1051.4 L1183.4 1050.7 L1185.4 1050.0 L1187.4 1049.2 L1189.4 1048.4 L1191.4 1047.7 L1193.3 1046.9 L1195.3 1046.1 L1197.3 1045.2 L1199.2 1044.4 L1201.1 1043.6 L1203.0 1042.7 L1205.0 1041.9 L1206.9 1041.0 L1208.8 1040.1 L1210.6 1039.2 L1212.5 1038.3 L1214.4 1037.4 L1216.2 1036.4 L1218.1 1035.5 L1219.9 1034.5 L1221.7 1033.6 L1223.5 1032.6 L1225.3 1031.6 L1227.1 1030.6 L1228.9 1029.6 L1230.7 1028.6 L1232.4 1027.5 L1234.2 1026.5 L1235.9 1025.4 L1237.7 1024.4 L1239.4 1023.3 L1241.1 1022.2 L1242.8 1021.1 L1244.4 1020.0 L1246.1 1018.9 L1247.7 1017.8 L1249.4 1016.6 L1251.0 1015.5 L1252.6 1014.3 L1254.2 1013.2 L1255.8 1012.0 L1257.4 1010.8 L1259.0 1009.6 L1260.5 1008.4 L1262.0 1007.2 L1263.6 1006.0 L1265.1 1004.7 L1266.6 1003.5 L1268.0 1002.3 L1269.5 1001.0 L1271.0 999.7 L1272.4 998.5 L1273.8 997.2 L1275.2 995.9 L1276.6 994.6 L1278.0 993.3 L1279.4 992.0 L1280.7 990.6 L1282.1 989.3 L1283.4 988.0 L1284.7 986.6 L1286.0 985.3 L1287.2 983.9 L1288.5 982.6 L1289.7 981.2 L1291.0 979.8 L1292.2 978.4 L1293.4 977.0 L1294.6 975.6 L1295.7 974.2 L1296.9 972.8 L1298.0 971.3 L1299.1 969.9 L1300.2 968.5 L1301.3 967.0 L1302.4 965.6 L1303.4 964.1 L1304.4 962.7 L1305.5 961.2 L1306.5 959.7 L1307.4 958.2 L1308.4 956.8 L1309.4 955.3 L1310.3 953.8 L1311.2 952.3 L1312.1 950.8 L1313.0 949.2 L1313.8 947.7 L1314.7 946.2 L1315.5 944.7 L1316.3 943.1 L1317.1 941.6 L1317.9 940.1 L1318.6 938.5 L1319.4 937.0 L1320.1 935.4 L1320.8 933.9 L1321.5 932.3 L1322.1 930.7 L1322.8 929.2 L1323.4 927.6 L1324.0 926.0 L1324.6 924.4 L1325.2 922.8 L1325.7 921.3 L1326.3 919.7 L1326.8 918.1 L1327.3 916.5 L1327.8 914.9 L1328.2 913.3 L1328.7 911.7 L1329.1 910.1 L1329.5 908.5 L1329.9 906.8 L1330.3 905.2 L1330.6 903.6 L1331.0 902.0 L1331.3 900.4 L1331.6 898.8 L1331.8 897.1 L1332.1 895.5 L1332.3 893.9 L1332.5 892.3 L1332.7 890.6 L1332.9 889.0 L1333.1 887.4 L1333.2 885.7 L1333.4 884.1 L1333.5 882.5 L1333.5 880.8 L1333.6 879.2 L1333.7 877.6 L1333.7 875.9 L1333.7 874.3" fill="none" stroke="#008000" stroke-width="5.6"/><path d="M1334.8 764.2 L1334.8 765.4 L1334.8 766.6 L1334.9 767.7 L1334.9 768.9 L1335.0 770.1 L1335.1 771.3 L1335.2 772.5 L1335.3 773.7 L1335.5 774.8 L1335.6 776.0 L1335.8 777.2 L1336.0 778.4 L1336.2 779.5 L1336.4 780.7 L1336.7 781.9 L1336.9 783.1 L1337.2 784.2 L1337.5 785.4 L1337.8 786.6 L1338.1 787.7 L1338.5 788.9 L1338.8 790.1 L1339.2 791.2 L1339.6 792.4 L1340.0 793.5 L1340.4 794.7 L1340.9 795.8 L1341.3 797.0 L1341.8 798.1 L1342.3 799.3 L1342.8 800.4 L1343.3 801.6 L1343.9 802.7 L1344.4 803.9 L1345.0 805.0 L1345.6 806.1 L1346.2 807.2 L1346.8 808.4 L1347.4 809.5 L1348.1 810.6 L1348.8 811.7 L1349.4 812.8 L1350.1 813.9 L1350.8 815.0 L1351.6 816.1 L1352.3 817.2 L1353.1 818.3 L1353.9 819.4 L1354.6 820.5 L1355.4 821.6 L1356.3 822.7 L1357.1 823.7 L1358.0 824.8 L1358.8 825.9 L1359.7 826.9 L1360.6 828.0 L1361.5 829.0 L1362.4 830.1 L1363.4 831.1 L1364.3 832.2 L1365.3 833.2 L1366.3 834.2 L1367.3 835.3 L1368.3 836.3 L1369.3 837.3 L1370.4 838.3 L1371.4 839.3 L1372.5 840.3 L1373.6 841.3 L1374.7 842.3 L1375.8 843.3 L1376.9 844.2 L1378.0 845.2 L1379.2 846.2 L1380.3 847.1 L1381.5 848.1 L1382.7 849.0 L1383.9 850.0 L1385.1 850.9 L1386.4 851.8 L1387.6 852.7 L1388.9 853.7 L1390.1 854.6 L1391.4 855.5 L1392.7 856.4 L1394.0 857.2 L1395.3 858.1 L1396.7 859.0 L1398.0 859.9 L1399.4 860.7 L1400.7 861.6 L1402.1 862.4 L1403.5 863.3 L1404.9 864.1 L1406.3 864.9 L1407.7 865.8 L1409.2 866.6 L1410.6 867.4 L1412.1 868.2 L1413.5 869.0 L1415.0 869.8 L1416.5 870.5 L1418.0 871.3 L1419.5 872.1 L1421.0 872.8 L1422.6 873.6 L1424.1 874.3 L1425.7 875.0 L1427.2 875.7 L1428.8 876.5 L1430.4 877.2 L1432.0 877.9 L1433.6 878.5 L1435.2 879.2 L1436.8 879.9 L1438.4 880.6 L1440.0 881.2 L1441.7 881.9 L1443.3 882.5 L1445.0 883.1 L1446.7 883.7 L1448.3 884.4 L1450.0 885.0 L1451.7 885.6 L1453.4 886.1 L1455.1 886.7 L1456.9 887.3 L1458.6 887.8 L1460.3 888.4 L1462.1 888.9 L1463.8 889.5 L1465.6 890.0 L1467.3 890.5 L1469.1 891.0 L1470.9 891.5 L1472.6 892.0 L1474.4 892.5 L1476.2 892.9 L1478.0 893.4 L1479.8 893.8 L1481.6 894.3 L1483.4 894.7 L1485.3 895.1 L1487.1 895.5 L1488.9 895.9 L1490.8 896.3 L1492.6 896.7 L1494.4 897.1 L1496.3 897.4 L1498.2 897.8 L1500.0 898.1 L1501.9 898.4 L1503.7 898.7 L1505.6 899.1 L1507.5 899.4 L1509.4 899.6 L1511.3 899.9 L1513.1 900.2 L1515.0 900.4 L1516.9 900.7 L1518.8 900.9 L1520.7 901.1 L1522.6 901.3 L1524.5 901.6 L1526.4 901.7 L1528.3 901.9 L1530.3 902.1 L1532.2 902.2 L1534.1 902.4 L1536.0 902.5 L1537.9 902.6 L1539.8 902.8 L1541.7 902.9 L1543.7 902.9 L1545.6 903.0 L1547.5 903.1 L1549.4 903.1 L1551.4 903.2 L1553.3 903.2 L1555.2 903.2 L1557.1 903.2 L1559.0 903.2 L1561.0 903.1 L1562.9 903.1 L1564.8 903.0 L1566.7 902.9 L1568.7 902.9 L1570.6 902.8 L1572.5 902.6 L1574.4 902.5 L1576.3 902.4 L1578.2 902.2 L1580.1 902.1 L1582.1 901.9 L1584.0 901.7 L1585.9 901.6 L1587.8 901.3 L1589.7 901.1 L1591.6 900.9 L1593.5 900.7 L1595.4 900.4 L1597.3 900.2 L1599.1 899.9 L1601.0 899.6 L1602.9 899.4 L1604.8 899.1 L1606.7 898.7 L1608.5 898.4 L1610.4 898.1 L1612.2 897.8 L1614.1 897.4 L1616.0 897.1 L1617.8 896.7 L1619.6 896.3 L1621.5 895.9 L1623.3 895.5 L1625.1 895.1 L1627.0 894.7 L1628.8 894.3 L1630.6 893.8 L1632.4 893.4 L1634.2 892.9 L1636.0 892.5 L1637.8 892.0 L1639.5 891.5 L1641.3 891.0 L1643.1 890.5 L1644.8 890.0 L1646.6 889.5 L1648.3 888.9 L1650.1 888.4 L1651.8 887.8 L1653.5 887.3 L1655.3 886.7 L1657.0 886.1 L1658.7 885.6 L1660.4 885.0 L1662.1 884.4 L1663.7 883.7 L1665.4 883.1 L1667.1 882.5 L1668.7 881.9 L1670.4 881.2 L1672.0 880.6 L1673.6 879.9 L1675.2 879.2 L1676.8 878.5 L1678.4 877.9 L1680.0 877.2 L1681.6 876.5 L1683.2 875.7 L1684.7 875.0 L1686.3 874.3 L1687.8 873.6 L1689.4 872.8 L1690.9 872.1 L1692.4 871.3 L1693.9 870.5 L1695.4 869.8 L1696.9 869.0 L1698.3 868.2 L1699.8 867.4 L1701.2 866.6 L1702.7 865.8 L1704.1 864.9 L1705.5 864.1 L1706.9 863.3 L1708.3 862.4 L1709.7 861.6 L1711.0 860.7 L1712.4 859.9 L1713.7 859.0 L1715.1 858.1 L1716.4 857.2 L1717.7 856.4 L1719.0 855.5 L1720.3 854.6 L1721.5 853.7 L1722.8 852.7 L1724.0 851.8 L1725.3 850.9 L1726.5 850.0 L1727.7 849.0 L1728.9 848.1 L1730.1 847.1 L1731.2 846.2 L1732.4 845.2 L1733.5 844.2 L1734.6 843.3 L1735.7 842.3 L1736.8 841.3 L1737.9 840.3 L1739.0 839.3 L1740.0 838.3 L1741.1 837.3 L1742.1 836.3 L1743.1 835.3 L1744.1 834.2 L1745.1 833.2 L1746.1 832.2 L1747.0 831.1 L1748.0 830.1 L1748.9 829.0 L1749.8 828.0 L1750.7 826.9 L1751.6 825.9 L1752.4 824.8 L1753.3 823.7 L1754.1 822.7 L1755.0 821.6 L1755.8 820.5 L1756.5 819.4 L1757.3 818.3 L1758.1 817.2 L1758.8 816.1 L1759.6 815.0 L1760.3 813.9 L1761.0 812.8 L1761.6 811.7 L1762.3 810.6 L1763.0 809.5 L1763.6 808.4 L1764.2 807.2 L1764.8 806.1 L1765.4 805.0 L1766.0 803.9 L1766.5 802.7 L1767.1 801.6 L1767.6 800.4 L1768.1 799.3 L1768.6 798.1 L1769.1 797.0 L1769.5 795.8 L1770.0 794.7 L1770.4 793.5 L1770.8 792.4 L1771.2 791.2 L1771.6 790.1 L1771.9 788.9 L1772.3 787.7 L1772.6 786.6 L1772.9 785.4 L1773.2 784.2 L1773.5 783.1 L1773.7 781.9 L1774.0 780.7 L1774.2 779.5 L1774.4 778.4 L1774.6 777.2 L1774.8 776.0 L1774.9 774.8 L1775.1 773.7 L1775.2 772.5 L1775.3 771.3 L1775.4 770.1 L1775.5 768.9 L1775.5 767.7 L1775.6 766.6 L1775.6 765.4 L1775.6 764.2" fill="none" stroke="#008000" stroke-width="5.6"/><path d="M1825.9 482.2 L1825.9 482.5 L1825.9 482.8 L1825.9 483.1 L1825.9 483.5 L1826.0 483.8 L1826.0 484.1 L1826.0 484.4 L1826.0 484.7 L1826.1 485.0 L1826.1 485.3 L1826.2 485.7 L1826.2 486.0 L1826.3 486.3 L1826.3 486.6 L1826.4 486.9 L1826.5 487.2 L1826.5 487.5 L1826.6 487.8 L1826.7 488.2 L1826.8 488.5 L1826.9 488.8 L1827.0 489.1 L1827.1 489.4 L1827.2 489.7 L1827.3 490.0 L1827.4 490.3 L1827.5 490.6 L1827.6 490.9 L1827.7 491.2 L1827.9 491.5 L1828.0 491.8 L1828.1 492.2 L1828.3 492.5 L1828.4 492.8 L1828.6 493.1 L1828.7 493.4 L1828.9 493.7 L1829.1 494.0 L1829.2 494.3 L1829.4 494.6 L1829.6 494.8 L1829.8 495.1 L1829.9 495.4 L1830.1 495.7 L1830.3 496.0 L1830.5 496.3 L1830.7 496.6 L1830.9 496.9 L1831.1 497.2 L1831.3 497.5 L1831.6 497.8 L1831.8 498.0 L1832.0 498.3 L1832.2 498.6 L1832.5 498.9 L1832.7 499.2 L1832.9 499.5 L1833.2 499.7 L1833.4 500.0 L1833.7 500.3 L1833.9 500.6 L1834.2 500.8 L1834.4 501.1 L1834.7 501.4 L1835.0 501.7 L1835.3 501.9 L1835.5 502.2 L1835.8 502.5 L1836.1 502.7 L1836.4 503.0 L1836.7 503.2 L1837.0 503.5 L1837.3 503.8 L1837.6 504.0 L1837.9 504.3 L1838.2 504.5 L1838.5 504.8 L1838.8 505.0 L1839.1 505.3 L1839.5 505.5 L1839.8 505.8 L1840.1 506.0 L1840.5 506.3 L1840.8 506.5 L1841.1 506.7 L1841.5 507.0 L1841.8 507.2 L1842.2 507.4 L1842.5 507.7 L1842.9 507.9 L1843.2 508.1 L1843.6 508.4 L1844.0 508.6 L1844.3 508.8 L1844.7 509.0 L1845.1 509.2 L1845.5 509.5 L1845.8 509.7 L1846.2 509.9 L1846.6 510.1 L1847.0 510.3 L1847.4 510.5 L1847.8 510.7 L1848.2 510.9 L1848.6 511.1 L1849.0 511.3 L1849.4 511.5 L1849.8 511.7 L1850.2 511.9 L1850.6 512.1 L1851.0 512.3 L1851.5 512.5 L1851.9 512.6 L1852.3 512.8 L1852.7 513.0 L1853.2 513.2 L1853.6 513.3 L1854.0 513.5 L1854.5 513.7 L1854.9 513.9 L1855.3 514.0 L1855.8 514.2 L1856.2 514.3 L1856.7 514.5 L1857.1 514.7 L1857.6 514.8 L1858.0 515.0 L1858.5 515.1 L1858.9 515.3 L1859.4 515.4 L1859.8 515.5 L1860.3 515.7 L1860.8 515.8 L1861.2 516.0 L1861.7 516.1 L1862.2 516.2 L1862.6 516.3 L1863.1 516.5 L1863.6 516.6 L1864.1 516.7 L1864.5 516.8 L1865.0 516.9 L1865.5 517.0 L1866.0 517.2 L1866.5 517.3 L1866.9 517.4 L1867.4 517.5 L1867.9 517.6 L1868.4 517.7 L1868.9 517.8 L1869.4 517.8 L1869.9 517.9 L1870.4 518.0 L1870.9 518.1 L1871.3 518.2 L1871.8 518.3 L1872.3 518.3 L1872.8 518.4 L1873.3 518.5 L1873.8 518.5 L1874.3 518.6 L1874.8 518.7 L1875.3 518.7 L1875.8 518.8 L1876.3 518.8 L1876.8 518.9 L1877.3 518.9 L1877.8 518.9 L1878.3 519.0 L1878.8 519.0 L1879.3 519.1 L1879.9 519.1 L1880.4 519.1 L1880.9 519.1 L1881.4 519.2 L1881.9 519.2 L1882.4 519.2 L1882.9 519.2 L1883.4 519.2 L1883.9 519.2 L1884.4 519.2 L1884.9 519.2 L1885.4 519.2 L1885.9 519.2 L1886.4 519.2 L1886.9 519.1 L1887.4 519.1 L1887.9 519.1 L1888.5 519.1 L1889.0 519.0 L1889.5 519.0 L1890.0 518.9 L1890.5 518.9 L1891.0 518.9 L1891.5 518.8 L1892.0 518.8 L1892.5 518.7 L1893.0 518.7 L1893.5 518.6 L1894.0 518.5 L1894.5 518.5 L1895.0 518.4 L1895.5 518.3 L1896.0 518.3 L1896.5 518.2 L1896.9 518.1 L1897.4 518.0 L1897.9 517.9 L1898.4 517.8 L1898.9 517.8 L1899.4 517.7 L1899.9 517.6 L1900.4 517.5 L1900.9 517.4 L1901.3 517.3 L1901.8 517.2 L1902.3 517.0 L1902.8 516.9 L1903.3 516.8 L1903.7 516.7 L1904.2 516.6 L1904.7 516.5 L1905.2 516.3 L1905.6 516.2 L1906.1 516.1 L1906.6 516.0 L1907.0 515.8 L1907.5 515.7 L1908.0 515.5 L1908.4 515.4 L1908.9 515.3 L1909.3 515.1 L1909.8 515.0 L1910.2 514.8 L1910.7 514.7 L1911.1 514.5 L1911.6 514.3 L1912.0 514.2 L1912.5 514.0 L1912.9 513.9 L1913.3 513.7 L1913.8 513.5 L1914.2 513.3 L1914.6 513.2 L1915.1 513.0 L1915.5 512.8 L1915.9 512.6 L1916.3 512.5 L1916.8 512.3 L1917.2 512.1 L1917.6 511.9 L1918.0 511.7 L1918.4 511.5 L1918.8 511.3 L1919.2 511.1 L1919.6 510.9 L1920.0 510.7 L1920.4 510.5 L1920.8 510.3 L1921.2 510.1 L1921.6 509.9 L1922.0 509.7 L1922.3 509.5 L1922.7 509.2 L1923.1 509.0 L1923.5 508.8 L1923.8 508.6 L1924.2 508.4 L1924.6 508.1 L1924.9 507.9 L1925.3 507.7 L1925.6 507.4 L1926.0 507.2 L1926.3 507.0 L1926.7 506.7 L1927.0 506.5 L1927.3 506.3 L1927.7 506.0 L1928.0 505.8 L1928.3 505.5 L1928.7 505.3 L1929.0 505.0 L1929.3 504.8 L1929.6 504.5 L1929.9 504.3 L1930.2 504.0 L1930.5 503.8 L1930.8 503.5 L1931.1 503.2 L1931.4 503.0 L1931.7 502.7 L1932.0 502.5 L1932.3 502.2 L1932.5 501.9 L1932.8 501.7 L1933.1 501.4 L1933.4 501.1 L1933.6 500.8 L1933.9 500.6 L1934.1 500.3 L1934.4 500.0 L1934.6 499.7 L1934.9 499.5 L1935.1 499.2 L1935.3 498.9 L1935.6 498.6 L1935.8 498.3 L1936.0 498.0 L1936.2 497.8 L1936.5 497.5 L1936.7 497.2 L1936.9 496.9 L1937.1 496.6 L1937.3 496.3 L1937.5 496.0 L1937.7 495.7 L1937.9 495.4 L1938.0 495.1 L1938.2 494.8 L1938.4 494.6 L1938.6 494.3 L1938.7 494.0 L1938.9 493.7 L1939.1 493.4 L1939.2 493.1 L1939.4 492.8 L1939.5 492.5 L1939.7 492.2 L1939.8 491.8 L1939.9 491.5 L1940.1 491.2 L1940.2 490.9 L1940.3 490.6 L1940.4 490.3 L1940.5 490.0 L1940.6 489.7 L1940.7 489.4 L1940.8 489.1 L1940.9 488.8 L1941.0 488.5 L1941.1 488.2 L1941.2 487.8 L1941.3 487.5 L1941.3 487.2 L1941.4 486.9 L1941.5 486.6 L1941.5 486.3 L1941.6 486.0 L1941.6 485.7 L1941.7 485.3 L1941.7 485.0 L1941.8 484.7 L1941.8 484.4 L1941.8 484.1 L1941.8 483.8 L1941.9 483.5 L1941.9 483.1 L1941.9 482.8 L1941.9 482.5 L1941.9 482.2" fill="none" stroke="#008000" stroke-width="5.6"/><path d="M1965.3 371.3 L1965.3 371.8 L1965.3 372.3 L1965.3 372.8 L1965.3 373.3 L1965.3 373.9 L1965.4 374.4 L1965.4 374.9 L1965.4 375.4 L1965.4 375.9 L1965.5 376.4 L1965.5 376.9 L1965.6 377.4 L1965.6 377.9 L1965.6 378.4 L1965.7 378.9 L1965.7 379.4 L1965.8 379.9 L1965.9 380.5 L1965.9 381.0 L1966.0 381.5 L1966.1 382.0 L1966.1 382.5 L1966.2 383.0 L1966.3 383.5 L1966.4 384.0 L1966.5 384.5 L1966.6 385.0 L1966.7 385.5 L1966.8 386.0 L1966.9 386.4 L1967.0 386.9 L1967.1 387.4 L1967.2 387.9 L1967.3 388.4 L1967.4 388.9 L1967.5 389.4 L1967.7 389.9 L1967.8 390.4 L1967.9 390.8 L1968.1 391.3 L1968.2 391.8 L1968.3 392.3 L1968.5 392.8 L1968.6 393.2 L1968.8 393.7 L1968.9 394.2 L1969.1 394.7 L1969.3 395.1 L1969.4 395.6 L1969.6 396.1 L1969.8 396.5 L1969.9 397.0 L1970.1 397.5 L1970.3 397.9 L1970.5 398.4 L1970.7 398.8 L1970.9 399.3 L1971.0 399.7 L1971.2 400.2 L1971.4 400.6 L1971.6 401.1 L1971.8 401.5 L1972.0 402.0 L1972.3 402.4 L1972.5 402.8 L1972.7 403.3 L1972.9 403.7 L1973.1 404.1 L1973.4 404.6 L1973.6 405.0 L1973.8 405.4 L1974.0 405.8 L1974.3 406.3 L1974.5 406.7 L1974.8 407.1 L1975.0 407.5 L1975.3 407.9 L1975.5 408.3 L1975.8 408.7 L1976.0 409.1 L1976.3 409.5 L1976.5 409.9 L1976.8 410.3 L1977.1 410.7 L1977.3 411.1 L1977.6 411.5 L1977.9 411.8 L1978.2 412.2 L1978.4 412.6 L1978.7 413.0 L1979.0 413.3 L1979.3 413.7 L1979.6 414.1 L1979.9 414.4 L1980.2 414.8 L1980.5 415.1 L1980.8 415.5 L1981.1 415.8 L1981.4 416.2 L1981.7 416.5 L1982.0 416.9 L1982.3 417.2 L1982.6 417.5 L1982.9 417.9 L1983.2 418.2 L1983.5 418.5 L1983.9 418.8 L1984.2 419.1 L1984.5 419.4 L1984.8 419.8 L1985.2 420.1 L1985.5 420.4 L1985.8 420.7 L1986.2 421.0 L1986.5 421.2 L1986.8 421.5 L1987.2 421.8 L1987.5 422.1 L1987.9 422.4 L1988.2 422.6 L1988.5 422.9 L1988.9 423.2 L1989.2 423.4 L1989.6 423.7 L1990.0 423.9 L1990.3 424.2 L1990.7 424.4 L1991.0 424.7 L1991.4 424.9 L1991.7 425.1 L1992.1 425.4 L1992.5 425.6 L1992.8 425.8 L1993.2 426.0 L1993.6 426.3 L1993.9 426.5 L1994.3 426.7 L1994.7 426.9 L1995.1 427.1 L1995.4 427.3 L1995.8 427.4 L1996.2 427.6 L1996.6 427.8 L1996.9 428.0 L1997.3 428.2 L1997.7 428.3 L1998.1 428.5 L1998.5 428.6 L1998.9 428.8 L1999.2 429.0 L1999.6 429.1 L2000.0 429.2 L2000.4 429.4 L2000.8 429.5 L2001.2 429.6 L2001.6 429.8 L2002.0 429.9 L2002.4 430.0 L2002.8 430.1 L2003.1 430.2 L2003.5 430.3 L2003.9 430.4 L2004.3 430.5 L2004.7 430.6 L2005.1 430.7 L2005.5 430.7 L2005.9 430.8 L2006.3 430.9 L2006.7 431.0 L2007.1 431.0 L2007.5 431.1 L2007.9 431.1 L2008.3 431.2 L2008.7 431.2 L2009.1 431.2 L2009.5 431.2 L2009.9 431.3 L2010.3 431.3 L2010.7 431.3 L2011.1 431.3 L2011.5 431.3 L2011.9 431.3 L2012.3 431.3 L2012.7 431.2 L2013.1 431.2 L2013.5 431.2 L2013.9 431.2 L2014.3 431.1 L2014.7 431.1 L2015.1 431.0 L2015.5 431.0 L2015.9 430.9 L2016.3 430.8 L2016.7 430.7 L2017.1 430.7 L2017.5 430.6 L2017.9 430.5 L2018.3 430.4 L2018.7 430.3 L2019.1 430.2 L2019.4 430.1 L2019.8 430.0 L2020.2 429.9 L2020.6 429.8 L2021.0 429.6 L2021.4 429.5 L2021.8 429.4 L2022.2 429.2 L2022.6 429.1 L2023.0 429.0 L2023.3 428.8 L2023.7 428.6 L2024.1 428.5 L2024.5 428.3 L2024.9 428.2 L2025.3 428.0 L2025.6 427.8 L2026.0 427.6 L2026.4 427.4 L2026.8 427.3 L2027.1 427.1 L2027.5 426.9 L2027.9 426.7 L2028.3 426.5 L2028.6 426.3 L2029.0 426.0 L2029.4 425.8 L2029.7 425.6 L2030.1 425.4 L2030.5 425.1 L2030.8 424.9 L2031.2 424.7 L2031.5 424.4 L2031.9 424.2 L2032.2 423.9 L2032.6 423.7 L2033.0 423.4 L2033.3 423.2 L2033.7 422.9 L2034.0 422.6 L2034.3 422.4 L2034.7 422.1 L2035.0 421.8 L2035.4 421.5 L2035.7 421.2 L2036.0 421.0 L2036.4 420.7 L2036.7 420.4 L2037.0 420.1 L2037.4 419.8 L2037.7 419.4 L2038.0 419.1 L2038.3 418.8 L2038.7 418.5 L2039.0 418.2 L2039.3 417.9 L2039.6 417.5 L2039.9 417.2 L2040.2 416.9 L2040.5 416.5 L2040.8 416.2 L2041.1 415.8 L2041.4 415.5 L2041.7 415.1 L2042.0 414.8 L2042.3 414.4 L2042.6 414.1 L2042.9 413.7 L2043.2 413.3 L2043.5 413.0 L2043.8 412.6 L2044.0 412.2 L2044.3 411.8 L2044.6 411.5 L2044.9 411.1 L2045.1 410.7 L2045.4 410.3 L2045.7 409.9 L2045.9 409.5 L2046.2 409.1 L2046.4 408.7 L2046.7 408.3 L2046.9 407.9 L2047.2 407.5 L2047.4 407.1 L2047.7 406.7 L2047.9 406.3 L2048.2 405.8 L2048.4 405.4 L2048.6 405.0 L2048.8 404.6 L2049.1 404.1 L2049.3 403.7 L2049.5 403.3 L2049.7 402.8 L2049.9 402.4 L2050.2 402.0 L2050.4 401.5 L2050.6 401.1 L2050.8 400.6 L2051.0 400.2 L2051.2 399.7 L2051.3 399.3 L2051.5 398.8 L2051.7 398.4 L2051.9 397.9 L2052.1 397.5 L2052.3 397.0 L2052.4 396.5 L2052.6 396.1 L2052.8 395.6 L2052.9 395.1 L2053.1 394.7 L2053.3 394.2 L2053.4 393.7 L2053.6 393.2 L2053.7 392.8 L2053.9 392.3 L2054.0 391.8 L2054.1 391.3 L2054.3 390.8 L2054.4 390.4 L2054.5 389.9 L2054.7 389.4 L2054.8 388.9 L2054.9 388.4 L2055.0 387.9 L2055.1 387.4 L2055.2 386.9 L2055.3 386.4 L2055.4 386.0 L2055.5 385.5 L2055.6 385.0 L2055.7 384.5 L2055.8 384.0 L2055.9 383.5 L2056.0 383.0 L2056.1 382.5 L2056.1 382.0 L2056.2 381.5 L2056.3 381.0 L2056.3 380.5 L2056.4 379.9 L2056.5 379.4 L2056.5 378.9 L2056.6 378.4 L2056.6 377.9 L2056.6 377.4 L2056.7 376.9 L2056.7 376.4 L2056.8 375.9 L2056.8 375.4 L2056.8 374.9 L2056.8 374.4 L2056.9 373.9 L2056.9 373.3 L2056.9 372.8 L2056.9 372.3 L2056.9 371.8 L2056.9 371.3" fill="none" stroke="#008000" stroke-width="5.6"/><path d="M2078.6 281.1 L2078.6 281.9 L2078.6 282.7 L2078.6 283.5 L2078.6 284.3 L2078.7 285.1 L2078.7 286.0 L2078.7 286.8 L2078.7 287.6 L2078.8 288.4 L2078.8 289.2 L2078.9 290.0 L2078.9 290.8 L2079.0 291.6 L2079.0 292.4 L2079.1 293.2 L2079.2 294.0 L2079.2 294.8 L2079.3 295.6 L2079.4 296.4 L2079.5 297.2 L2079.5 298.0 L2079.6 298.8 L2079.7 299.6 L2079.8 300.4 L2079.9 301.2 L2080.1 302.0 L2080.2 302.8 L2080.3 303.5 L2080.4 304.3 L2080.5 305.1 L2080.7 305.9 L2080.8 306.7 L2080.9 307.5 L2081.1 308.2 L2081.2 309.0 L2081.4 309.8 L2081.5 310.5 L2081.7 311.3 L2081.8 312.1 L2082.0 312.9 L2082.2 313.6 L2082.4 314.4 L2082.5 315.1 L2082.7 315.9 L2082.9 316.6 L2083.1 317.4 L2083.3 318.1 L2083.5 318.9 L2083.7 319.6 L2083.9 320.4 L2084.1 321.1 L2084.3 321.8 L2084.5 322.6 L2084.8 323.3 L2085.0 324.0 L2085.2 324.7 L2085.5 325.5 L2085.7 326.2 L2085.9 326.9 L2086.2 327.6 L2086.4 328.3 L2086.7 329.0 L2086.9 329.7 L2087.2 330.4 L2087.5 331.1 L2087.7 331.8 L2088.0 332.5 L2088.3 333.2 L2088.6 333.8 L2088.8 334.5 L2089.1 335.2 L2089.4 335.9 L2089.7 336.5 L2090.0 337.2 L2090.3 337.8 L2090.6 338.5 L2090.9 339.1 L2091.2 339.8 L2091.5 340.4 L2091.8 341.0 L2092.2 341.7 L2092.5 342.3 L2092.8 342.9 L2093.1 343.5 L2093.5 344.2 L2093.8 344.8 L2094.1 345.4 L2094.5 346.0 L2094.8 346.6 L2095.2 347.1 L2095.5 347.7 L2095.9 348.3 L2096.2 348.9 L2096.6 349.5 L2097.0 350.0 L2097.3 350.6 L2097.7 351.1 L2098.1 351.7 L2098.4 352.2 L2098.8 352.8 L2099.2 353.3 L2099.6 353.8 L2100.0 354.4 L2100.4 354.9 L2100.7 355.4 L2101.1 355.9 L2101.5 356.4 L2101.9 356.9 L2102.3 357.4 L2102.7 357.9 L2103.1 358.4 L2103.5 358.9 L2104.0 359.3 L2104.4 359.8 L2104.8 360.3 L2105.2 360.7 L2105.6 361.2 L2106.0 361.6 L2106.5 362.0 L2106.9 362.5 L2107.3 362.9 L2107.8 363.3 L2108.2 363.7 L2108.6 364.1 L2109.1 364.5 L2109.5 364.9 L2109.9 365.3 L2110.4 365.7 L2110.8 366.1 L2111.3 366.4 L2111.7 366.8 L2112.2 367.2 L2112.6 367.5 L2113.1 367.9 L2113.5 368.2 L2114.0 368.5 L2114.5 368.9 L2114.9 369.2 L2115.4 369.5 L2115.8 369.8 L2116.3 370.1 L2116.8 370.4 L2117.2 370.7 L2117.7 370.9 L2118.2 371.2 L2118.7 371.5 L2119.1 371.7 L2119.6 372.0 L2120.1 372.2 L2120.6 372.5 L2121.0 372.7 L2121.5 372.9 L2122.0 373.2 L2122.5 373.4 L2122.9 373.6 L2123.4 373.8 L2123.9 374.0 L2124.4 374.1 L2124.9 374.3 L2125.4 374.5 L2125.9 374.6 L2126.3 374.8 L2126.8 374.9 L2127.3 375.1 L2127.8 375.2 L2128.3 375.3 L2128.8 375.4 L2129.3 375.5 L2129.8 375.6 L2130.3 375.7 L2130.8 375.8 L2131.3 375.9 L2131.7 376.0 L2132.2 376.0 L2132.7 376.1 L2133.2 376.1 L2133.7 376.2 L2134.2 376.2 L2134.7 376.2 L2135.2 376.2 L2135.7 376.2 L2136.2 376.2 L2136.7 376.2 L2137.2 376.1 L2137.7 376.1 L2138.2 376.0 L2138.7 376.0 L2139.1 375.9 L2139.6 375.8 L2140.1 375.7 L2140.6 375.6 L2141.1 375.5 L2141.6 375.4 L2142.1 375.3 L2142.6 375.2 L2143.1 375.1 L2143.6 374.9 L2144.1 374.8 L2144.5 374.6 L2145.0 374.5 L2145.5 374.3 L2146.0 374.1 L2146.5 374.0 L2147.0 373.8 L2147.5 373.6 L2147.9 373.4 L2148.4 373.2 L2148.9 372.9 L2149.4 372.7 L2149.8 372.5 L2150.3 372.2 L2150.8 372.0 L2151.3 371.7 L2151.7 371.5 L2152.2 371.2 L2152.7 370.9 L2153.2 370.7 L2153.6 370.4 L2154.1 370.1 L2154.6 369.8 L2155.0 369.5 L2155.5 369.2 L2155.9 368.9 L2156.4 368.5 L2156.9 368.2 L2157.3 367.9 L2157.8 367.5 L2158.2 367.2 L2158.7 366.8 L2159.1 366.4 L2159.6 366.1 L2160.0 365.7 L2160.5 365.3 L2160.9 364.9 L2161.3 364.5 L2161.8 364.1 L2162.2 363.7 L2162.6 363.3 L2163.1 362.9 L2163.5 362.5 L2163.9 362.0 L2164.4 361.6 L2164.8 361.2 L2165.2 360.7 L2165.6 360.3 L2166.0 359.8 L2166.4 359.3 L2166.9 358.9 L2167.3 358.4 L2167.7 357.9 L2168.1 357.4 L2168.5 356.9 L2168.9 356.4 L2169.3 355.9 L2169.7 355.4 L2170.0 354.9 L2170.4 354.4 L2170.8 353.8 L2171.2 353.3 L2171.6 352.8 L2172.0 352.2 L2172.3 351.7 L2172.7 351.1 L2173.1 350.6 L2173.4 350.0 L2173.8 349.5 L2174.2 348.9 L2174.5 348.3 L2174.9 347.7 L2175.2 347.1 L2175.6 346.6 L2175.9 346.0 L2176.3 345.4 L2176.6 344.8 L2176.9 344.2 L2177.3 343.5 L2177.6 342.9 L2177.9 342.3 L2178.2 341.7 L2178.6 341.0 L2178.9 340.4 L2179.2 339.8 L2179.5 339.1 L2179.8 338.5 L2180.1 337.8 L2180.4 337.2 L2180.7 336.5 L2181.0 335.9 L2181.3 335.2 L2181.6 334.5 L2181.8 333.8 L2182.1 333.2 L2182.4 332.5 L2182.7 331.8 L2182.9 331.1 L2183.2 330.4 L2183.5 329.7 L2183.7 329.0 L2184.0 328.3 L2184.2 327.6 L2184.5 326.9 L2184.7 326.2 L2184.9 325.5 L2185.2 324.7 L2185.4 324.0 L2185.6 323.3 L2185.9 322.6 L2186.1 321.8 L2186.3 321.1 L2186.5 320.4 L2186.7 319.6 L2186.9 318.9 L2187.1 318.1 L2187.3 317.4 L2187.5 316.6 L2187.7 315.9 L2187.9 315.1 L2188.0 314.4 L2188.2 313.6 L2188.4 312.9 L2188.6 312.1 L2188.7 311.3 L2188.9 310.5 L2189.0 309.8 L2189.2 309.0 L2189.3 308.2 L2189.5 307.5 L2189.6 306.7 L2189.7 305.9 L2189.9 305.1 L2190.0 304.3 L2190.1 303.5 L2190.2 302.8 L2190.3 302.0 L2190.5 301.2 L2190.6 300.4 L2190.7 299.6 L2190.8 298.8 L2190.9 298.0 L2190.9 297.2 L2191.0 296.4 L2191.1 295.6 L2191.2 294.8 L2191.2 294.0 L2191.3 293.2 L2191.4 292.4 L2191.4 291.6 L2191.5 290.8 L2191.5 290.0 L2191.6 289.2 L2191.6 288.4 L2191.7 287.6 L2191.7 286.8 L2191.7 286.0 L2191.7 285.1 L2191.8 284.3 L2191.8 283.5 L2191.8 282.7 L2191.8 281.9 L2191.8 281.1" fill="none" stroke="#008000" stroke-width="5.6"/><path d="M2202.0 213.0 L2202.0 213.4 L2202.0 213.9 L2202.0 214.3 L2202.0 214.8 L2202.0 215.2 L2202.0 215.7 L2202.0 216.1 L2202.1 216.6 L2202.1 217.0 L2202.1 217.4 L2202.2 217.9 L2202.2 218.3 L2202.3 218.8 L2202.3 219.2 L2202.4 219.7 L2202.4 220.1 L2202.5 220.5 L2202.5 221.0 L2202.6 221.4 L2202.7 221.9 L2202.7 222.3 L2202.8 222.7 L2202.9 223.2 L2203.0 223.6 L2203.1 224.0 L2203.2 224.5 L2203.3 224.9 L2203.4 225.3 L2203.5 225.8 L2203.6 226.2 L2203.7 226.6 L2203.8 227.1 L2203.9 227.5 L2204.0 227.9 L2204.1 228.3 L2204.3 228.8 L2204.4 229.2 L2204.5 229.6 L2204.7 230.0 L2204.8 230.5 L2205.0 230.9 L2205.1 231.3 L2205.3 231.7 L2205.4 232.1 L2205.6 232.5 L2205.7 233.0 L2205.9 233.4 L2206.1 233.8 L2206.2 234.2 L2206.4 234.6 L2206.6 235.0 L2206.8 235.4 L2206.9 235.8 L2207.1 236.2 L2207.3 236.6 L2207.5 237.0 L2207.7 237.4 L2207.9 237.8 L2208.1 238.2 L2208.3 238.6 L2208.5 239.0 L2208.7 239.4 L2208.9 239.7 L2209.2 240.1 L2209.4 240.5 L2209.6 240.9 L2209.8 241.3 L2210.1 241.6 L2210.3 242.0 L2210.5 242.4 L2210.8 242.7 L2211.0 243.1 L2211.3 243.5 L2211.5 243.8 L2211.8 244.2 L2212.0 244.6 L2212.3 244.9 L2212.5 245.3 L2212.8 245.6 L2213.1 246.0 L2213.3 246.3 L2213.6 246.7 L2213.9 247.0 L2214.1 247.3 L2214.4 247.7 L2214.7 248.0 L2215.0 248.3 L2215.3 248.7 L2215.6 249.0 L2215.8 249.3 L2216.1 249.6 L2216.4 250.0 L2216.7 250.3 L2217.0 250.6 L2217.3 250.9 L2217.6 251.2 L2218.0 251.5 L2218.3 251.8 L2218.6 252.1 L2218.9 252.4 L2219.2 252.7 L2219.5 253.0 L2219.9 253.3 L2220.2 253.6 L2220.5 253.9 L2220.8 254.1 L2221.2 254.4 L2221.5 254.7 L2221.8 255.0 L2222.2 255.2 L2222.5 255.5 L2222.9 255.8 L2223.2 256.0 L2223.6 256.3 L2223.9 256.5 L2224.3 256.8 L2224.6 257.0 L2225.0 257.3 L2225.3 257.5 L2225.7 257.7 L2226.0 258.0 L2226.4 258.2 L2226.8 258.4 L2227.1 258.7 L2227.5 258.9 L2227.9 259.1 L2228.2 259.3 L2228.6 259.5 L2229.0 259.7 L2229.3 259.9 L2229.7 260.1 L2230.1 260.3 L2230.5 260.5 L2230.9 260.7 L2231.2 260.9 L2231.6 261.1 L2232.0 261.3 L2232.4 261.4 L2232.8 261.6 L2233.2 261.8 L2233.6 261.9 L2234.0 262.1 L2234.3 262.3 L2234.7 262.4 L2235.1 262.6 L2235.5 262.7 L2235.9 262.9 L2236.3 263.0 L2236.7 263.1 L2237.1 263.3 L2237.5 263.4 L2237.9 263.5 L2238.3 263.6 L2238.7 263.7 L2239.1 263.9 L2239.5 264.0 L2239.9 264.1 L2240.3 264.2 L2240.8 264.3 L2241.2 264.4 L2241.6 264.4 L2242.0 264.5 L2242.4 264.6 L2242.8 264.7 L2243.2 264.8 L2243.6 264.8 L2244.0 264.9 L2244.4 264.9 L2244.9 265.0 L2245.3 265.0 L2245.7 265.1 L2246.1 265.1 L2246.5 265.2 L2246.9 265.2 L2247.3 265.2 L2247.7 265.3 L2248.2 265.3 L2248.6 265.3 L2249.0 265.3 L2249.4 265.3 L2249.8 265.3 L2250.2 265.3 L2250.6 265.3 L2251.1 265.3 L2251.5 265.2 L2251.9 265.2 L2252.3 265.2 L2252.7 265.1 L2253.1 265.1 L2253.5 265.0 L2253.9 265.0 L2254.4 264.9 L2254.8 264.9 L2255.2 264.8 L2255.6 264.8 L2256.0 264.7 L2256.4 264.6 L2256.8 264.5 L2257.2 264.4 L2257.6 264.4 L2258.0 264.3 L2258.5 264.2 L2258.9 264.1 L2259.3 264.0 L2259.7 263.9 L2260.1 263.7 L2260.5 263.6 L2260.9 263.5 L2261.3 263.4 L2261.7 263.3 L2262.1 263.1 L2262.5 263.0 L2262.9 262.9 L2263.3 262.7 L2263.7 262.6 L2264.1 262.4 L2264.5 262.3 L2264.8 262.1 L2265.2 261.9 L2265.6 261.8 L2266.0 261.6 L2266.4 261.4 L2266.8 261.3 L2267.2 261.1 L2267.6 260.9 L2267.9 260.7 L2268.3 260.5 L2268.7 260.3 L2269.1 260.1 L2269.5 259.9 L2269.8 259.7 L2270.2 259.5 L2270.6 259.3 L2270.9 259.1 L2271.3 258.9 L2271.7 258.7 L2272.0 258.4 L2272.4 258.2 L2272.8 258.0 L2273.1 257.7 L2273.5 257.5 L2273.8 257.3 L2274.2 257.0 L2274.5 256.8 L2274.9 256.5 L2275.2 256.3 L2275.6 256.0 L2275.9 255.8 L2276.3 255.5 L2276.6 255.2 L2277.0 255.0 L2277.3 254.7 L2277.6 254.4 L2278.0 254.1 L2278.3 253.9 L2278.6 253.6 L2278.9 253.3 L2279.3 253.0 L2279.6 252.7 L2279.9 252.4 L2280.2 252.1 L2280.5 251.8 L2280.8 251.5 L2281.2 251.2 L2281.5 250.9 L2281.8 250.6 L2282.1 250.3 L2282.4 250.0 L2282.7 249.6 L2283.0 249.3 L2283.2 249.0 L2283.5 248.7 L2283.8 248.3 L2284.1 248.0 L2284.4 247.7 L2284.7 247.3 L2284.9 247.0 L2285.2 246.7 L2285.5 246.3 L2285.7 246.0 L2286.0 245.6 L2286.3 245.3 L2286.5 244.9 L2286.8 244.6 L2287.0 244.2 L2287.3 243.8 L2287.5 243.5 L2287.8 243.1 L2288.0 242.7 L2288.3 242.4 L2288.5 242.0 L2288.7 241.6 L2289.0 241.3 L2289.2 240.9 L2289.4 240.5 L2289.6 240.1 L2289.9 239.7 L2290.1 239.4 L2290.3 239.0 L2290.5 238.6 L2290.7 238.2 L2290.9 237.8 L2291.1 237.4 L2291.3 237.0 L2291.5 236.6 L2291.7 236.2 L2291.9 235.8 L2292.0 235.4 L2292.2 235.0 L2292.4 234.6 L2292.6 234.2 L2292.7 233.8 L2292.9 233.4 L2293.1 233.0 L2293.2 232.5 L2293.4 232.1 L2293.5 231.7 L2293.7 231.3 L2293.8 230.9 L2294.0 230.5 L2294.1 230.0 L2294.3 229.6 L2294.4 229.2 L2294.5 228.8 L2294.7 228.3 L2294.8 227.9 L2294.9 227.5 L2295.0 227.1 L2295.1 226.6 L2295.2 226.2 L2295.3 225.8 L2295.4 225.3 L2295.5 224.9 L2295.6 224.5 L2295.7 224.0 L2295.8 223.6 L2295.9 223.2 L2296.0 222.7 L2296.1 222.3 L2296.1 221.9 L2296.2 221.4 L2296.3 221.0 L2296.3 220.5 L2296.4 220.1 L2296.4 219.7 L2296.5 219.2 L2296.5 218.8 L2296.6 218.3 L2296.6 217.9 L2296.7 217.4 L2296.7 217.0 L2296.7 216.6 L2296.8 216.1 L2296.8 215.7 L2296.8 215.2 L2296.8 214.8 L2296.8 214.3 L2296.8 213.9 L2296.8 213.4 L2296.8 213.0" fill="none" stroke="#008000" stroke-width="5.6"/>
<polygon points="80.1,837.4 86.9,834.6 100.6,868.8 109.3,865.3 105.4,891.0 84.9,875.0 93.7,871.6" fill="#ff0000"/><polygon points="593.5,821.4 600.5,818.8 613.2,853.2 622.0,849.9 617.5,875.5 597.4,859.0 606.3,855.8" fill="#ff0000"/><polygon points="823.2,710.6 830.2,708.0 843.4,742.5 852.2,739.1 848.0,764.7 827.7,748.5 836.5,745.1" fill="#ff0000"/><polygon points="1137.1,718.4 1144.1,715.8 1157.3,750.3 1166.1,746.9 1161.9,772.5 1141.6,756.3 1150.4,752.9" fill="#ff0000"/><polygon points="1327.3,570.0 1334.3,567.4 1346.7,602.1 1355.6,598.9 1350.8,624.4 1330.9,607.7 1339.7,604.6" fill="#ff0000"/><polygon points="1412.8,568.2 1419.8,565.6 1432.5,600.2 1441.3,597.0 1436.7,622.5 1416.7,606.0 1425.5,602.7" fill="#ff0000"/><polygon points="1684.4,569.2 1691.4,566.6 1704.3,601.5 1713.1,598.2 1708.6,623.8 1688.5,607.3 1697.4,604.1" fill="#ff0000"/><polygon points="1805.0,366.3 1812.0,363.7 1824.9,397.9 1833.7,394.6 1829.3,420.2 1809.1,403.9 1817.9,400.5" fill="#ff0000"/><polygon points="1874.7,361.6 1881.7,359.0 1894.9,393.6 1903.7,390.2 1899.5,415.8 1879.2,399.6 1888.0,396.2" fill="#ff0000"/><polygon points="1944.6,261.0 1951.6,258.6 1963.2,292.4 1972.1,289.4 1966.9,314.8 1947.3,297.8 1956.2,294.8" fill="#ff0000"/><polygon points="2051.5,142.1 2058.5,139.7 2070.1,173.1 2079.0,170.0 2074.0,195.5 2054.3,178.6 2063.1,175.6" fill="#ff0000"/><polygon points="2180.9,112.3 2187.9,109.9 2198.9,143.1 2207.9,140.1 2202.5,165.5 2183.0,148.4 2191.9,145.4" fill="#ff0000"/>
<circle cx="2285.9" cy="152.9" r="16.2" fill="rgba(0,128,0,0.13)" stroke="rgba(0,128,0,0.45)" stroke-width="4"/>
<text x="77.4" y="231.7" class="title" textLength="190.6" lengthAdjust="spacingAndGlyphs">Equal</text><text x="288.7" y="231.7" class="title" textLength="241.4" lengthAdjust="spacingAndGlyphs">Weight</text><text x="548.2" y="231.7" class="title" textLength="376.2" lengthAdjust="spacingAndGlyphs">Industrials</text><text x="934.0" y="231.7" class="title" textLength="84.2" lengthAdjust="spacingAndGlyphs">vs</text><text x="1037.2" y="231.7" class="title" textLength="191.4" lengthAdjust="spacingAndGlyphs">Equal</text><text x="1248.5" y="231.7" class="title" textLength="240.8" lengthAdjust="spacingAndGlyphs">Weight</text><text x="1507.4" y="231.7" class="title" textLength="136.4" lengthAdjust="spacingAndGlyphs">S&amp;P</text><text x="1662.8" y="231.7" class="title" textLength="121.4" lengthAdjust="spacingAndGlyphs">500</text>
<text x="732.7" y="328.1" class="title" textLength="393.6" lengthAdjust="spacingAndGlyphs">(RSPN/RSP)</text>
<text x="2220" y="76.7" class="ath" textLength="120" lengthAdjust="spacingAndGlyphs">All-Time</text>
<text x="2245" y="119.5" class="ath" textLength="81" lengthAdjust="spacingAndGlyphs">Highs</text>
<line x1="2431" y1="147.2" x2="2437" y2="147.2" stroke="#000" stroke-width="1.5"/>
<rect x="2437" y="127" width="68" height="40" fill="#000"/>
<text x="2441" y="157" class="ax" style="fill:#fff;font-size:31.5px" textLength="58" lengthAdjust="spacingAndGlyphs">0.30</text>
<path d="M2511 638.5 H2503 Q2499.5 638.5 2499.5 642 V664 Q2499.5 667.5 2503 667.5 H2511" fill="#fcfcfc" stroke="#cfcfcf" stroke-width="1"/>
<path d="M2508 648.5 L2504 653 L2508 657.5" fill="none" stroke="#888" stroke-width="2.2"/>
<g id="dailynumber">
<text x="2199" y="1031" font-family="Liberation Sans" font-size="15" fill="#111" textLength="27" lengthAdjust="spacingAndGlyphs">The</text>
<g fill="#E91D3F" fill-rule="evenodd">
<path d="M2203 1036.8 H2219 A18.6 18.6 0 0 1 2219 1074 H2203 Z M2213.2 1045.8 H2219 A9.6 9.6 0 0 1 2219 1065 H2213.2 Z"/>
<path d="M2242.7 1081 V1052.3 A16.05 16.05 0 0 1 2274.8 1052.3 V1062.5 L2270 1057.5 L2265 1062.5 V1064.6 H2252.6 V1081 H2258.2 L2248.6 1094.6 L2238.4 1081 Z M2252.6 1057 H2265 V1052.3 A6.2 6.2 0 0 0 2252.6 1052.3 Z"/>
<rect x="2281.8" y="1036.8" width="10.1" height="37.2"/>
<path d="M2298.4 1036.8 H2308.5 V1065.2 H2328.4 V1074 H2298.4 Z"/>
<path d="M2322 1036.8 H2333.3 L2339.5 1047.5 L2345.5 1036.8 H2356.8 L2345 1057 V1074 H2334.3 V1057 Z"/>
</g>
<g fill="#2BB37E" fill-rule="evenodd">
<path d="M2203 1082 H2213.7 L2225 1101 V1082 H2235.9 V1119 H2225.2 L2213.7 1100 V1119 H2203 Z"/>
<path d="M2242.7 1091.5 L2248 1098 L2252.6 1092.5 V1103 A6.2 6.2 0 0 0 2265 1103 V1076.6 H2259.8 L2270 1063 L2279.6 1076.6 H2274.8 V1103 A16.05 16.05 0 0 1 2242.7 1103 Z"/>
<path d="M2280.2 1082 H2291.4 L2299.6 1094 L2308 1082 H2319 V1119 H2308 V1100 L2299.6 1112.3 L2291.4 1100 V1119 H2280.2 Z"/>
<path d="M2325.2 1082 H2344 A9.5 9.5 0 0 1 2352 1098.5 A10.5 10.5 0 0 1 2347 1119 H2325.2 Z M2335.3 1091.4 H2343 A4.3 4.3 0 0 1 2343 1100 H2335.3 Z M2335.3 1104.3 H2344 A2.95 2.95 0 0 1 2344 1110.2 H2335.3 Z"/>
<path d="M2362 1082 H2391.9 V1090.9 H2372.8 V1096.6 H2389.4 V1104.8 H2372.8 V1110.2 H2391.9 V1119 H2362 Z"/>
<path d="M2395.9 1082 H2416 A12.5 12.5 0 0 1 2419 1106.5 L2429.6 1119 H2418 L2409 1108 H2406.6 V1119 H2395.9 Z M2406.6 1091.4 H2414.5 A4 4 0 0 1 2414.5 1099.4 H2406.6 Z"/>
</g>
<text x="2203.5" y="1136.7" font-family="Liberation Sans" font-size="14.5" fill="#222" textLength="154.5" lengthAdjust="spacingAndGlyphs">with Grant Hawkridge</text>
</g>
<g id="optuma">
<rect x="0" y="1283" width="104" height="24" fill="#fff"/>
<rect x="5.1" y="1283" width="20.9" height="20.8" rx="2.2" fill="#0b3d75"/>
<circle cx="19.3" cy="1296.9" r="9.6" fill="#fff"/>
<circle cx="19.3" cy="1296.9" r="6.3" fill="#0b3d75"/>
<text x="28" y="1300.5" font-family="Liberation Sans" font-weight="bold" font-size="18.5" fill="#0b3d75" textLength="58" lengthAdjust="spacingAndGlyphs">Optuma</text>
<circle cx="86.6" cy="1289.6" r="1.3" fill="#0b3d75"/>
</g>

</svg>
</body></html>
